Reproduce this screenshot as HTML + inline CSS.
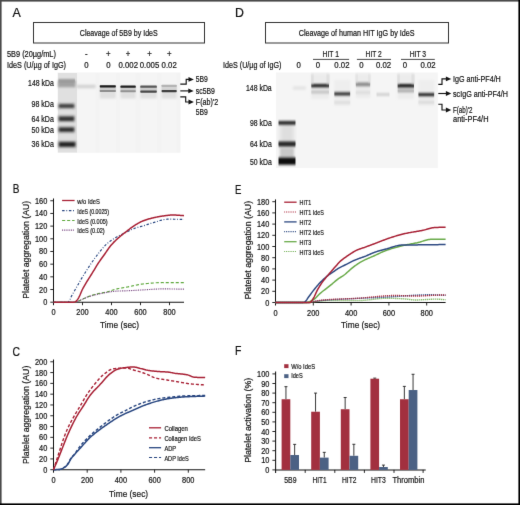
<!DOCTYPE html>
<html><head><meta charset="utf-8"><style>
html,body{margin:0;padding:0;background:#fff;}
body{width:520px;height:505px;overflow:hidden;}
svg{display:block;font-family:"Liberation Sans", sans-serif;}
text{stroke:#141414;stroke-width:0.2px;}
text.n{stroke:none;}
</style></head><body>
<svg width="520" height="505" viewBox="0 0 520 505">
<defs><filter id="soft" filterUnits="userSpaceOnUse" x="0" y="0" width="520" height="505" color-interpolation-filters="sRGB"><feConvolveMatrix order="3" kernelMatrix="0.00524 0.06192 0.00524 0.06192 0.73137 0.06192 0.00524 0.06192 0.00524" edgeMode="duplicate" preserveAlpha="true"/></filter></defs>
<g filter="url(#soft)">
<rect x="0.00" y="0.00" width="520.00" height="505.00" fill="#fff"/>
<defs><filter id="b1" x="-20%" y="-100%" width="140%" height="300%"><feGaussianBlur stdDeviation="0.6"/></filter><filter id="b2" x="-20%" y="-100%" width="140%" height="300%"><feGaussianBlur stdDeviation="1.1"/></filter><filter id="b3" x="-20%" y="-50%" width="140%" height="200%"><feGaussianBlur stdDeviation="2"/></filter><filter id="bv" x="-20%" y="-100%" width="140%" height="300%"><feGaussianBlur stdDeviation="0.6 0.95"/></filter><filter id="bv2" x="-20%" y="-100%" width="140%" height="300%"><feGaussianBlur stdDeviation="0.8 1.1"/></filter></defs>
<text x="16.55" y="17.16" font-size="12.31" text-anchor="middle" fill="#111" textLength="8.30" lengthAdjust="spacingAndGlyphs">A</text>
<rect x="33.50" y="22.50" width="171.00" height="20.50" fill="none" stroke="#333" stroke-width="1"/>
<text x="118.75" y="35.81" font-size="8.42" text-anchor="middle" fill="#141414" textLength="77.90" lengthAdjust="spacingAndGlyphs">Cleavage of 5B9 by IdeS</text>
<text x="31.45" y="57.26" font-size="8.42" text-anchor="middle" fill="#141414" textLength="48.90" lengthAdjust="spacingAndGlyphs">5B9 (20µg/mL)</text>
<text x="36.50" y="67.71" font-size="8.42" text-anchor="middle" fill="#141414" textLength="59.00" lengthAdjust="spacingAndGlyphs">IdeS (U/µg of IgG)</text>
<text x="86.30" y="57.41" font-size="8.42" text-anchor="middle" fill="#141414" textLength="2.60" lengthAdjust="spacingAndGlyphs">-</text>
<text x="108.30" y="57.21" font-size="8.42" text-anchor="middle" fill="#141414" textLength="4.56" lengthAdjust="spacingAndGlyphs">+</text>
<text x="128.10" y="57.21" font-size="8.42" text-anchor="middle" fill="#141414" textLength="4.56" lengthAdjust="spacingAndGlyphs">+</text>
<text x="149.60" y="57.21" font-size="8.42" text-anchor="middle" fill="#141414" textLength="4.56" lengthAdjust="spacingAndGlyphs">+</text>
<text x="169.40" y="57.21" font-size="8.42" text-anchor="middle" fill="#141414" textLength="4.56" lengthAdjust="spacingAndGlyphs">+</text>
<text x="86.30" y="68.11" font-size="8.42" text-anchor="middle" fill="#141414" textLength="4.34" lengthAdjust="spacingAndGlyphs">0</text>
<text x="108.30" y="68.11" font-size="8.42" text-anchor="middle" fill="#141414" textLength="4.34" lengthAdjust="spacingAndGlyphs">0</text>
<text x="128.30" y="68.11" font-size="8.42" text-anchor="middle" fill="#141414" textLength="19.52" lengthAdjust="spacingAndGlyphs">0.002</text>
<text x="149.50" y="68.11" font-size="8.42" text-anchor="middle" fill="#141414" textLength="19.52" lengthAdjust="spacingAndGlyphs">0.005</text>
<text x="169.20" y="68.11" font-size="8.42" text-anchor="middle" fill="#141414" textLength="15.18" lengthAdjust="spacingAndGlyphs">0.02</text>
<rect x="57.50" y="72.50" width="123.00" height="80.20" fill="#f3f3f3"/>
<rect x="76.50" y="73.00" width="19.00" height="79.50" fill="#f5f5f5" filter="url(#b1)"/>
<rect x="99.30" y="73.00" width="16.80" height="79.50" fill="#f5f5f5" filter="url(#b1)"/>
<rect x="120.00" y="73.00" width="15.70" height="79.50" fill="#f5f5f5" filter="url(#b1)"/>
<rect x="140.30" y="73.00" width="16.50" height="79.50" fill="#f5f5f5" filter="url(#b1)"/>
<rect x="161.60" y="73.00" width="15.10" height="79.50" fill="#f5f5f5" filter="url(#b1)"/>
<rect x="58.00" y="73.00" width="19.00" height="79.50" fill="#e0e0e0" filter="url(#b1)"/>
<rect x="58.00" y="80.30" width="17.50" height="7.00" rx="0.6" fill="#a2a2a2" opacity="1.0" filter="url(#b2)"/>
<rect x="58.50" y="79.50" width="16.50" height="2.00" rx="0.6" fill="#8a8a8a" opacity="1.0" filter="url(#bv)"/>
<rect x="58.00" y="102.45" width="17.00" height="7.10" rx="0.6" fill="#c6c6c6" opacity="1.0" filter="url(#b2)"/>
<rect x="58.80" y="104.20" width="15.40" height="3.60" rx="0.6" fill="#363636" opacity="1.0" filter="url(#bv2)"/>
<rect x="58.00" y="114.85" width="17.00" height="7.90" rx="0.6" fill="#c6c6c6" opacity="1.0" filter="url(#b2)"/>
<rect x="58.80" y="116.60" width="15.40" height="4.40" rx="0.6" fill="#303030" opacity="1.0" filter="url(#bv2)"/>
<rect x="58.00" y="125.65" width="17.00" height="7.90" rx="0.6" fill="#c6c6c6" opacity="1.0" filter="url(#b2)"/>
<rect x="58.80" y="127.40" width="15.40" height="4.40" rx="0.6" fill="#2c2c2c" opacity="1.0" filter="url(#bv2)"/>
<rect x="58.00" y="140.25" width="18.20" height="8.30" rx="0.6" fill="#c6c6c6" opacity="1.0" filter="url(#b2)"/>
<rect x="58.80" y="142.00" width="16.60" height="4.80" rx="0.6" fill="#242424" opacity="1.0" filter="url(#bv2)"/>
<rect x="76.50" y="84.65" width="19.00" height="3.50" rx="0.6" fill="#d2d2d2" opacity="1.0" filter="url(#b2)"/>
<rect x="99.80" y="85.50" width="16.00" height="13.00" rx="0.6" fill="#e0e0e0" opacity="1.0" filter="url(#b2)"/>
<rect x="99.80" y="85.80" width="16.00" height="5.70" rx="0.6" fill="#cbcbcb" opacity="1.0" filter="url(#b1)"/>
<rect x="99.80" y="89.95" width="16.00" height="2.10" rx="0.6" fill="#8e8e8e" opacity="1.0" filter="url(#b1)"/>
<rect x="99.80" y="85.15" width="16.00" height="2.30" rx="0.6" fill="#1a1a1a" opacity="1.0" filter="url(#b1)"/>
<rect x="120.50" y="85.50" width="15.20" height="13.00" rx="0.6" fill="#e0e0e0" opacity="1.0" filter="url(#b2)"/>
<rect x="120.50" y="86.20" width="15.20" height="5.60" rx="0.6" fill="#cbcbcb" opacity="1.0" filter="url(#b1)"/>
<rect x="120.50" y="90.25" width="15.20" height="2.10" rx="0.6" fill="#939393" opacity="1.0" filter="url(#b1)"/>
<rect x="120.50" y="85.55" width="15.20" height="2.30" rx="0.6" fill="#222222" opacity="1.0" filter="url(#b1)"/>
<rect x="140.30" y="85.50" width="16.50" height="13.00" rx="0.6" fill="#e0e0e0" opacity="1.0" filter="url(#b2)"/>
<rect x="140.30" y="86.10" width="16.50" height="6.00" rx="0.6" fill="#cbcbcb" opacity="1.0" filter="url(#b1)"/>
<rect x="140.30" y="90.55" width="16.50" height="2.10" rx="0.6" fill="#4a4a4a" opacity="1.0" filter="url(#b1)"/>
<rect x="140.30" y="85.45" width="16.50" height="2.30" rx="0.6" fill="#5a5a5a" opacity="1.0" filter="url(#b1)"/>
<rect x="161.60" y="85.50" width="15.10" height="13.00" rx="0.6" fill="#e0e0e0" opacity="1.0" filter="url(#b2)"/>
<rect x="161.60" y="85.30" width="15.10" height="6.30" rx="0.6" fill="#d4d4d4" opacity="1.0" filter="url(#b1)"/>
<rect x="161.60" y="90.05" width="15.10" height="2.10" rx="0.6" fill="#404040" opacity="1.0" filter="url(#b1)"/>
<rect x="161.60" y="84.65" width="15.10" height="2.30" rx="0.6" fill="#b4b4b4" opacity="1.0" filter="url(#b1)"/>
<path d="M180.30,84.10 L186.20,84.10 L186.20,79.40 L189.90,79.40" fill="none" stroke="#151515" stroke-width="1.15"/>
<path d="M193.90,79.40 L188.50,77.00 L188.50,81.80 Z" fill="#151515"/>
<path d="M180.30,90.90 L186.20,90.90 L186.20,90.90 L189.70,90.90" fill="none" stroke="#151515" stroke-width="1.15"/>
<path d="M193.70,90.90 L188.30,88.50 L188.30,93.30 Z" fill="#151515"/>
<path d="M180.30,96.80 L185.70,96.80 L185.70,102.00 L189.90,102.00" fill="none" stroke="#151515" stroke-width="1.15"/>
<path d="M193.90,102.00 L188.50,99.60 L188.50,104.40 Z" fill="#151515"/>
<text x="201.85" y="82.41" font-size="8.42" text-anchor="middle" fill="#141414" textLength="12.10" lengthAdjust="spacingAndGlyphs">5B9</text>
<text x="205.35" y="93.91" font-size="8.42" text-anchor="middle" fill="#141414" textLength="19.10" lengthAdjust="spacingAndGlyphs">sc5B9</text>
<text x="207.00" y="104.91" font-size="8.42" text-anchor="middle" fill="#141414" textLength="22.40" lengthAdjust="spacingAndGlyphs">F(ab)'2</text>
<text x="201.85" y="114.61" font-size="8.42" text-anchor="middle" fill="#141414" textLength="12.10" lengthAdjust="spacingAndGlyphs">5B9</text>
<text x="40.95" y="85.91" font-size="8.42" text-anchor="middle" fill="#141414" textLength="25.70" lengthAdjust="spacingAndGlyphs">148 kDa</text>
<text x="42.65" y="107.11" font-size="8.42" text-anchor="middle" fill="#141414" textLength="22.30" lengthAdjust="spacingAndGlyphs">98 kDa</text>
<text x="42.65" y="122.01" font-size="8.42" text-anchor="middle" fill="#141414" textLength="22.30" lengthAdjust="spacingAndGlyphs">64 kDa</text>
<text x="42.65" y="132.71" font-size="8.42" text-anchor="middle" fill="#141414" textLength="22.30" lengthAdjust="spacingAndGlyphs">50 kDa</text>
<text x="42.65" y="147.31" font-size="8.42" text-anchor="middle" fill="#141414" textLength="22.30" lengthAdjust="spacingAndGlyphs">36 kDa</text>
<text x="239.55" y="17.06" font-size="12.31" text-anchor="middle" fill="#111" textLength="8.90" lengthAdjust="spacingAndGlyphs">D</text>
<rect x="265.50" y="22.50" width="183.00" height="20.50" fill="none" stroke="#333" stroke-width="1"/>
<text x="356.65" y="36.01" font-size="8.42" text-anchor="middle" fill="#141414" textLength="115.90" lengthAdjust="spacingAndGlyphs">Cleavage of human HIT IgG by IdeS</text>
<text x="330.80" y="56.71" font-size="8.42" text-anchor="middle" fill="#141414" textLength="16.40" lengthAdjust="spacingAndGlyphs">HIT 1</text>
<line x1="313.00" y1="59.40" x2="349.10" y2="59.40" stroke="#333" stroke-width="0.9"/>
<text x="373.65" y="56.71" font-size="8.42" text-anchor="middle" fill="#141414" textLength="16.10" lengthAdjust="spacingAndGlyphs">HIT 2</text>
<line x1="356.90" y1="59.40" x2="391.00" y2="59.40" stroke="#333" stroke-width="0.9"/>
<text x="417.90" y="56.71" font-size="8.42" text-anchor="middle" fill="#141414" textLength="16.40" lengthAdjust="spacingAndGlyphs">HIT 3</text>
<line x1="401.00" y1="59.40" x2="434.80" y2="59.40" stroke="#333" stroke-width="0.9"/>
<text x="252.20" y="68.21" font-size="8.42" text-anchor="middle" fill="#141414" textLength="58.40" lengthAdjust="spacingAndGlyphs">IdeS (U/µg of IgG)</text>
<text x="298.70" y="68.21" font-size="8.42" text-anchor="middle" fill="#141414" textLength="4.34" lengthAdjust="spacingAndGlyphs">0</text>
<text x="318.00" y="68.21" font-size="8.42" text-anchor="middle" fill="#141414" textLength="4.34" lengthAdjust="spacingAndGlyphs">0</text>
<text x="341.90" y="68.21" font-size="8.42" text-anchor="middle" fill="#141414" textLength="15.18" lengthAdjust="spacingAndGlyphs">0.02</text>
<text x="361.50" y="68.21" font-size="8.42" text-anchor="middle" fill="#141414" textLength="4.34" lengthAdjust="spacingAndGlyphs">0</text>
<text x="383.50" y="68.21" font-size="8.42" text-anchor="middle" fill="#141414" textLength="15.18" lengthAdjust="spacingAndGlyphs">0.02</text>
<text x="405.00" y="68.21" font-size="8.42" text-anchor="middle" fill="#141414" textLength="4.34" lengthAdjust="spacingAndGlyphs">0</text>
<text x="428.00" y="68.21" font-size="8.42" text-anchor="middle" fill="#141414" textLength="15.18" lengthAdjust="spacingAndGlyphs">0.02</text>
<rect x="276.00" y="72.50" width="161.80" height="95.50" fill="#f5f5f5"/>
<rect x="280.00" y="122.00" width="14.00" height="26.00" rx="0.6" fill="#dedede" opacity="1.0" filter="url(#b3)"/>
<rect x="280.00" y="148.00" width="14.00" height="10.00" rx="0.6" fill="#c8c8c8" opacity="1.0" filter="url(#b2)"/>
<rect x="278.50" y="120.90" width="17.00" height="3.80" rx="0.6" fill="#2a2a2a" opacity="1.0" filter="url(#bv)"/>
<rect x="278.50" y="141.60" width="17.00" height="4.80" rx="0.6" fill="#262626" opacity="1.0" filter="url(#bv)"/>
<rect x="278.50" y="157.60" width="17.00" height="7.20" rx="0.6" fill="#101010" opacity="1.0" filter="url(#bv)"/>
<rect x="292.90" y="86.15" width="13.00" height="3.50" rx="0.6" fill="#e4e4e4" opacity="1.0" filter="url(#b2)"/>
<rect x="311.30" y="73.50" width="17.70" height="25.50" rx="0.6" fill="#ececec" opacity="1.0" filter="url(#b2)"/>
<rect x="311.30" y="90.50" width="17.70" height="3.00" rx="0.6" fill="#c2c2c2" opacity="1.0" filter="url(#bv)"/>
<rect x="311.30" y="83.90" width="17.70" height="3.40" rx="0.6" fill="#1a1a1a" opacity="1.0" filter="url(#bv)"/>
<rect x="334.30" y="80.00" width="15.90" height="26.00" rx="0.6" fill="#eeeeee" opacity="1.0" filter="url(#b2)"/>
<rect x="334.30" y="101.00" width="15.90" height="3.00" rx="0.6" fill="#dedede" opacity="1.0" filter="url(#bv)"/>
<rect x="334.30" y="92.20" width="15.90" height="3.20" rx="0.6" fill="#303030" opacity="1.0" filter="url(#bv)"/>
<rect x="355.80" y="73.50" width="14.40" height="24.50" rx="0.6" fill="#ececec" opacity="1.0" filter="url(#b2)"/>
<rect x="355.80" y="91.00" width="14.40" height="3.00" rx="0.6" fill="#dedede" opacity="1.0" filter="url(#bv)"/>
<rect x="355.80" y="82.60" width="14.40" height="3.60" rx="0.6" fill="#8a8a8a" opacity="1.0" filter="url(#bv)"/>
<rect x="376.50" y="92.90" width="13.00" height="3.20" rx="0.6" fill="#d2d2d2" opacity="1.0" filter="url(#bv)"/>
<rect x="397.60" y="73.50" width="16.40" height="25.50" rx="0.6" fill="#ececec" opacity="1.0" filter="url(#b2)"/>
<rect x="397.60" y="89.60" width="16.40" height="2.60" rx="0.6" fill="#a6a6a6" opacity="1.0" filter="url(#bv)"/>
<rect x="397.60" y="84.10" width="16.40" height="3.40" rx="0.6" fill="#141414" opacity="1.0" filter="url(#bv)"/>
<rect x="418.40" y="80.00" width="15.80" height="26.00" rx="0.6" fill="#eeeeee" opacity="1.0" filter="url(#b2)"/>
<rect x="418.40" y="100.80" width="15.80" height="3.00" rx="0.6" fill="#dcdcdc" opacity="1.0" filter="url(#bv)"/>
<rect x="418.40" y="93.00" width="15.80" height="3.20" rx="0.6" fill="#2c2c2c" opacity="1.0" filter="url(#bv)"/>
<rect x="311.40" y="74.00" width="1.6" height="10.50" fill="#cfcfcf" filter="url(#b2)"/>
<rect x="327.30" y="74.00" width="1.6" height="10.50" fill="#cfcfcf" filter="url(#b2)"/>
<rect x="397.70" y="74.00" width="1.6" height="10.50" fill="#cfcfcf" filter="url(#b2)"/>
<rect x="412.30" y="74.00" width="1.6" height="10.50" fill="#cfcfcf" filter="url(#b2)"/>
<rect x="355.90" y="74.00" width="1.6" height="9.00" fill="#dadada" filter="url(#b2)"/>
<rect x="368.50" y="74.00" width="1.6" height="9.00" fill="#dadada" filter="url(#b2)"/>
<path d="M438.30,84.40 L442.00,84.40 L442.00,78.90 L447.30,78.90" fill="none" stroke="#151515" stroke-width="1.15"/>
<path d="M451.30,78.90 L445.90,76.50 L445.90,81.30 Z" fill="#151515"/>
<path d="M438.30,93.50 L442.00,93.50 L442.00,93.50 L447.30,93.50" fill="none" stroke="#151515" stroke-width="1.15"/>
<path d="M451.30,93.50 L445.90,91.10 L445.90,95.90 Z" fill="#151515"/>
<path d="M438.30,104.20 L442.00,104.20 L442.00,110.00 L447.30,110.00" fill="none" stroke="#151515" stroke-width="1.15"/>
<path d="M451.30,110.00 L445.90,107.60 L445.90,112.40 Z" fill="#151515"/>
<text x="476.90" y="82.21" font-size="8.42" text-anchor="middle" fill="#141414" textLength="47.80" lengthAdjust="spacingAndGlyphs">IgG anti-PF4/H</text>
<text x="480.50" y="96.51" font-size="8.42" text-anchor="middle" fill="#141414" textLength="55.00" lengthAdjust="spacingAndGlyphs">scIgG anti-PF4/H</text>
<text x="462.75" y="113.01" font-size="8.42" text-anchor="middle" fill="#141414" textLength="19.50" lengthAdjust="spacingAndGlyphs">F(ab)'2</text>
<text x="470.75" y="122.01" font-size="8.42" text-anchor="middle" fill="#141414" textLength="35.50" lengthAdjust="spacingAndGlyphs">anti-PF4/H</text>
<text x="258.85" y="90.81" font-size="8.42" text-anchor="middle" fill="#141414" textLength="25.70" lengthAdjust="spacingAndGlyphs">148 kDa</text>
<text x="260.85" y="126.01" font-size="8.42" text-anchor="middle" fill="#141414" textLength="21.70" lengthAdjust="spacingAndGlyphs">98 kDa</text>
<text x="260.85" y="146.71" font-size="8.42" text-anchor="middle" fill="#141414" textLength="21.70" lengthAdjust="spacingAndGlyphs">64 kDa</text>
<text x="260.85" y="165.01" font-size="8.42" text-anchor="middle" fill="#141414" textLength="21.70" lengthAdjust="spacingAndGlyphs">50 kDa</text>
<text x="16.15" y="193.46" font-size="12.31" text-anchor="middle" fill="#111" textLength="6.70" lengthAdjust="spacingAndGlyphs">B</text>
<line x1="53.50" y1="305.20" x2="53.50" y2="198.46" stroke="#111" stroke-width="1.05"/>
<line x1="53.50" y1="302.20" x2="184.00" y2="302.20" stroke="#111" stroke-width="1.05"/>
<line x1="50.30" y1="302.20" x2="53.50" y2="302.20" stroke="#111" stroke-width="0.9"/>
<text x="47.30" y="305.21" font-size="8.42" text-anchor="end" fill="#141414" textLength="4.12" lengthAdjust="spacingAndGlyphs">0</text>
<line x1="50.30" y1="289.52" x2="53.50" y2="289.52" stroke="#111" stroke-width="0.9"/>
<text x="47.30" y="292.53" font-size="8.42" text-anchor="end" fill="#141414" textLength="8.24" lengthAdjust="spacingAndGlyphs">20</text>
<line x1="50.30" y1="276.84" x2="53.50" y2="276.84" stroke="#111" stroke-width="0.9"/>
<text x="47.30" y="279.85" font-size="8.42" text-anchor="end" fill="#141414" textLength="8.24" lengthAdjust="spacingAndGlyphs">40</text>
<line x1="50.30" y1="264.16" x2="53.50" y2="264.16" stroke="#111" stroke-width="0.9"/>
<text x="47.30" y="267.17" font-size="8.42" text-anchor="end" fill="#141414" textLength="8.24" lengthAdjust="spacingAndGlyphs">60</text>
<line x1="50.30" y1="251.48" x2="53.50" y2="251.48" stroke="#111" stroke-width="0.9"/>
<text x="47.30" y="254.49" font-size="8.42" text-anchor="end" fill="#141414" textLength="8.24" lengthAdjust="spacingAndGlyphs">80</text>
<line x1="50.30" y1="238.80" x2="53.50" y2="238.80" stroke="#111" stroke-width="0.9"/>
<text x="47.30" y="241.81" font-size="8.42" text-anchor="end" fill="#141414" textLength="12.36" lengthAdjust="spacingAndGlyphs">100</text>
<line x1="50.30" y1="226.12" x2="53.50" y2="226.12" stroke="#111" stroke-width="0.9"/>
<text x="47.30" y="229.13" font-size="8.42" text-anchor="end" fill="#141414" textLength="12.36" lengthAdjust="spacingAndGlyphs">120</text>
<line x1="50.30" y1="213.44" x2="53.50" y2="213.44" stroke="#111" stroke-width="0.9"/>
<text x="47.30" y="216.45" font-size="8.42" text-anchor="end" fill="#141414" textLength="12.36" lengthAdjust="spacingAndGlyphs">140</text>
<line x1="50.30" y1="200.76" x2="53.50" y2="200.76" stroke="#111" stroke-width="0.9"/>
<text x="47.30" y="203.77" font-size="8.42" text-anchor="end" fill="#141414" textLength="12.36" lengthAdjust="spacingAndGlyphs">160</text>
<text x="53.50" y="315.41" font-size="8.42" text-anchor="middle" fill="#141414" textLength="4.12" lengthAdjust="spacingAndGlyphs">0</text>
<line x1="82.50" y1="302.20" x2="82.50" y2="305.20" stroke="#111" stroke-width="0.9"/>
<text x="82.50" y="315.41" font-size="8.42" text-anchor="middle" fill="#141414" textLength="12.36" lengthAdjust="spacingAndGlyphs">200</text>
<line x1="111.50" y1="302.20" x2="111.50" y2="305.20" stroke="#111" stroke-width="0.9"/>
<text x="111.50" y="315.41" font-size="8.42" text-anchor="middle" fill="#141414" textLength="12.36" lengthAdjust="spacingAndGlyphs">400</text>
<line x1="140.50" y1="302.20" x2="140.50" y2="305.20" stroke="#111" stroke-width="0.9"/>
<text x="140.50" y="315.41" font-size="8.42" text-anchor="middle" fill="#141414" textLength="12.36" lengthAdjust="spacingAndGlyphs">600</text>
<line x1="169.50" y1="302.20" x2="169.50" y2="305.20" stroke="#111" stroke-width="0.9"/>
<text x="169.50" y="315.41" font-size="8.42" text-anchor="middle" fill="#141414" textLength="12.36" lengthAdjust="spacingAndGlyphs">800</text>
<text x="25.80" y="253.28" font-size="9.72" text-anchor="middle" fill="#141414" textLength="98.00" lengthAdjust="spacingAndGlyphs" transform="rotate(-90 25.80 249.80)">Platelet aggregation (AU)</text>
<text x="119.50" y="327.88" font-size="9.72" text-anchor="middle" fill="#141414" textLength="39.00" lengthAdjust="spacingAndGlyphs">Time (sec)</text>
<path d="M53.50,302.20 L54.23,302.20 L54.95,302.20 L55.67,302.20 L56.40,302.20 L57.12,302.20 L57.85,302.20 L58.58,302.20 L59.30,302.20 L60.02,302.20 L60.75,302.20 L61.48,302.20 L62.20,302.20 L62.92,302.20 L63.65,302.20 L64.38,302.20 L65.10,302.20 L65.83,302.20 L66.55,302.20 L67.28,302.20 L68.00,302.20 L68.72,302.20 L69.45,302.20 L70.17,302.20 L70.90,302.20 L71.62,302.20 L72.35,302.20 L73.08,302.20 L73.80,302.20 L74.53,302.20 L75.25,302.20 L75.97,302.13 L76.70,301.94 L77.42,301.65 L78.15,301.31 L78.88,300.93 L79.60,300.54 L80.33,300.18 L81.05,299.86 L81.78,299.54 L82.50,299.21 L83.22,298.87 L83.95,298.52 L84.67,298.18 L85.40,297.84 L86.12,297.51 L86.85,297.20 L87.57,296.90 L88.30,296.62 L89.03,296.36 L89.75,296.10 L90.47,295.85 L91.20,295.61 L91.92,295.37 L92.65,295.14 L93.38,294.92 L94.10,294.70 L94.82,294.49 L95.55,294.29 L96.28,294.10 L97.00,293.91 L97.72,293.73 L98.45,293.57 L99.17,293.41 L99.90,293.26 L100.62,293.12 L101.35,292.99 L102.07,292.85 L102.80,292.72 L103.53,292.59 L104.25,292.45 L104.97,292.31 L105.70,292.16 L106.42,292.00 L107.15,291.83 L107.88,291.64 L108.60,291.43 L109.32,291.21 L110.05,290.98 L110.78,290.74 L111.50,290.50 L112.22,290.26 L112.95,290.01 L113.67,289.78 L114.40,289.56 L115.12,289.35 L115.85,289.15 L116.57,288.98 L117.30,288.82 L118.02,288.67 L118.75,288.52 L119.47,288.38 L120.20,288.25 L120.92,288.12 L121.65,287.99 L122.38,287.87 L123.10,287.75 L123.82,287.62 L124.55,287.50 L125.27,287.37 L126.00,287.24 L126.72,287.11 L127.45,286.97 L128.18,286.83 L128.90,286.68 L129.62,286.53 L130.35,286.38 L131.07,286.22 L131.80,286.06 L132.52,285.90 L133.25,285.74 L133.97,285.58 L134.70,285.43 L135.43,285.27 L136.15,285.12 L136.88,284.97 L137.60,284.82 L138.32,284.68 L139.05,284.55 L139.77,284.42 L140.50,284.30 L141.22,284.18 L141.95,284.08 L142.68,283.98 L143.40,283.89 L144.12,283.81 L144.85,283.74 L145.57,283.67 L146.30,283.60 L147.02,283.53 L147.75,283.46 L148.47,283.39 L149.20,283.32 L149.93,283.25 L150.65,283.19 L151.38,283.13 L152.10,283.06 L152.82,283.01 L153.55,282.95 L154.27,282.90 L155.00,282.85 L155.72,282.80 L156.45,282.75 L157.18,282.71 L157.90,282.68 L158.62,282.64 L159.35,282.62 L160.07,282.59 L160.80,282.57 L161.52,282.56 L162.25,282.55 L162.97,282.55 L163.70,282.55 L164.43,282.55 L165.15,282.55 L165.88,282.55 L166.60,282.55 L167.32,282.55 L168.05,282.55 L168.77,282.55 L169.50,282.55 L170.22,282.55 L170.95,282.55 L171.68,282.55 L172.40,282.55 L173.12,282.55 L173.85,282.55 L174.57,282.55 L175.30,282.55 L176.02,282.55 L176.75,282.55 L177.47,282.55 L178.20,282.55 L178.93,282.55 L179.65,282.55 L180.38,282.55 L181.10,282.55 L181.82,282.55 L182.55,282.55 L183.27,282.55 L184.00,282.55" fill="none" stroke="#5ea83c" stroke-width="1.15" stroke-dasharray="3.1 1.9" stroke-linejoin="round" stroke-linecap="butt"/>
<path d="M53.50,302.20 L54.23,302.20 L54.95,302.20 L55.67,302.20 L56.40,302.20 L57.12,302.20 L57.85,302.20 L58.58,302.20 L59.30,302.20 L60.02,302.20 L60.75,302.20 L61.48,302.20 L62.20,302.20 L62.92,302.20 L63.65,302.20 L64.38,302.20 L65.10,302.20 L65.83,302.20 L66.55,302.20 L67.28,302.20 L68.00,302.20 L68.72,302.20 L69.45,302.20 L70.17,302.20 L70.90,302.20 L71.62,302.20 L72.35,302.20 L73.08,302.20 L73.80,302.20 L74.53,302.20 L75.25,302.20 L75.97,302.13 L76.70,301.94 L77.42,301.65 L78.15,301.30 L78.88,300.92 L79.60,300.53 L80.33,300.17 L81.05,299.86 L81.78,299.55 L82.50,299.23 L83.22,298.91 L83.95,298.58 L84.67,298.26 L85.40,297.94 L86.12,297.63 L86.85,297.34 L87.57,297.07 L88.30,296.81 L89.03,296.57 L89.75,296.34 L90.47,296.12 L91.20,295.91 L91.92,295.70 L92.65,295.50 L93.38,295.31 L94.10,295.12 L94.82,294.94 L95.55,294.76 L96.28,294.58 L97.00,294.41 L97.72,294.24 L98.45,294.07 L99.17,293.91 L99.90,293.75 L100.62,293.59 L101.35,293.44 L102.07,293.29 L102.80,293.14 L103.53,292.99 L104.25,292.86 L104.97,292.72 L105.70,292.59 L106.42,292.47 L107.15,292.35 L107.88,292.23 L108.60,292.11 L109.32,291.99 L110.05,291.87 L110.78,291.75 L111.50,291.64 L112.22,291.53 L112.95,291.44 L113.67,291.34 L114.40,291.26 L115.12,291.20 L115.85,291.14 L116.57,291.10 L117.30,291.06 L118.02,291.03 L118.75,291.01 L119.47,290.99 L120.20,290.97 L120.92,290.95 L121.65,290.93 L122.38,290.91 L123.10,290.89 L123.82,290.88 L124.55,290.86 L125.27,290.84 L126.00,290.81 L126.72,290.79 L127.45,290.76 L128.18,290.73 L128.90,290.70 L129.62,290.66 L130.35,290.63 L131.07,290.59 L131.80,290.55 L132.52,290.51 L133.25,290.47 L133.97,290.43 L134.70,290.39 L135.43,290.34 L136.15,290.30 L136.88,290.26 L137.60,290.21 L138.32,290.17 L139.05,290.13 L139.77,290.08 L140.50,290.04 L141.22,290.00 L141.95,289.96 L142.68,289.92 L143.40,289.88 L144.12,289.84 L144.85,289.80 L145.57,289.76 L146.30,289.71 L147.02,289.67 L147.75,289.62 L148.47,289.58 L149.20,289.53 L149.93,289.48 L150.65,289.43 L151.38,289.38 L152.10,289.33 L152.82,289.29 L153.55,289.24 L154.27,289.20 L155.00,289.15 L155.72,289.11 L156.45,289.08 L157.18,289.04 L157.90,289.01 L158.62,288.98 L159.35,288.95 L160.07,288.93 L160.80,288.91 L161.52,288.90 L162.25,288.89 L162.97,288.89 L163.70,288.89 L164.43,288.89 L165.15,288.89 L165.88,288.90 L166.60,288.90 L167.32,288.91 L168.05,288.92 L168.77,288.93 L169.50,288.94 L170.22,288.95 L170.95,288.96 L171.68,288.97 L172.40,288.98 L173.12,289.00 L173.85,289.01 L174.57,289.02 L175.30,289.04 L176.02,289.05 L176.75,289.07 L177.47,289.08 L178.20,289.10 L178.93,289.11 L179.65,289.13 L180.38,289.14 L181.10,289.15 L181.82,289.17 L182.55,289.18 L183.27,289.19 L184.00,289.20" fill="none" stroke="#6e3a78" stroke-width="1.15" stroke-dasharray="0.9 0.9" stroke-linejoin="round" stroke-linecap="butt"/>
<path d="M53.50,302.20 L54.23,302.20 L54.95,302.20 L55.67,302.20 L56.40,302.20 L57.12,302.20 L57.85,302.20 L58.58,302.20 L59.30,302.20 L60.02,302.20 L60.75,302.20 L61.48,302.20 L62.20,302.20 L62.92,302.20 L63.65,302.20 L64.38,302.20 L65.10,302.20 L65.83,302.20 L66.55,302.20 L67.28,302.20 L68.00,302.06 L68.72,301.68 L69.45,300.64 L70.17,299.09 L70.90,297.38 L71.62,295.86 L72.35,294.56 L73.08,293.29 L73.80,292.03 L74.53,290.78 L75.25,289.52 L75.97,288.25 L76.70,286.98 L77.42,285.71 L78.15,284.44 L78.88,283.18 L79.60,281.91 L80.33,280.64 L81.05,279.37 L81.78,278.13 L82.50,276.92 L83.22,275.74 L83.95,274.58 L84.67,273.44 L85.40,272.31 L86.12,271.18 L86.85,270.04 L87.57,268.90 L88.30,267.75 L89.03,266.61 L89.75,265.50 L90.47,264.41 L91.20,263.35 L91.92,262.30 L92.65,261.26 L93.38,260.23 L94.10,259.21 L94.82,258.20 L95.55,257.21 L96.28,256.24 L97.00,255.28 L97.72,254.34 L98.45,253.43 L99.17,252.52 L99.90,251.62 L100.62,250.72 L101.35,249.82 L102.07,248.94 L102.80,248.08 L103.53,247.24 L104.25,246.42 L104.97,245.64 L105.70,244.90 L106.42,244.20 L107.15,243.55 L107.88,242.95 L108.60,242.36 L109.32,241.80 L110.05,241.26 L110.78,240.74 L111.50,240.24 L112.22,239.75 L112.95,239.28 L113.67,238.83 L114.40,238.38 L115.12,237.94 L115.85,237.51 L116.57,237.09 L117.30,236.67 L118.02,236.27 L118.75,235.88 L119.47,235.50 L120.20,235.13 L120.92,234.77 L121.65,234.42 L122.38,234.07 L123.10,233.72 L123.82,233.37 L124.55,233.03 L125.27,232.69 L126.00,232.34 L126.72,231.99 L127.45,231.63 L128.18,231.27 L128.90,230.92 L129.62,230.56 L130.35,230.20 L131.07,229.86 L131.80,229.52 L132.52,229.20 L133.25,228.88 L133.97,228.59 L134.70,228.32 L135.43,228.06 L136.15,227.83 L136.88,227.60 L137.60,227.39 L138.32,227.19 L139.05,227.00 L139.77,226.80 L140.50,226.61 L141.22,226.42 L141.95,226.22 L142.68,226.02 L143.40,225.80 L144.12,225.58 L144.85,225.35 L145.57,225.11 L146.30,224.86 L147.02,224.62 L147.75,224.37 L148.47,224.13 L149.20,223.88 L149.93,223.65 L150.65,223.42 L151.38,223.20 L152.10,222.99 L152.82,222.79 L153.55,222.58 L154.27,222.36 L155.00,222.14 L155.72,221.91 L156.45,221.68 L157.18,221.45 L157.90,221.23 L158.62,221.00 L159.35,220.78 L160.07,220.57 L160.80,220.37 L161.52,220.17 L162.25,219.99 L162.97,219.82 L163.70,219.67 L164.43,219.53 L165.15,219.41 L165.88,219.31 L166.60,219.23 L167.32,219.18 L168.05,219.15 L168.77,219.15 L169.50,219.15 L170.22,219.15 L170.95,219.16 L171.68,219.17 L172.40,219.18 L173.12,219.19 L173.85,219.21 L174.57,219.22 L175.30,219.24 L176.02,219.26 L176.75,219.28 L177.47,219.30 L178.20,219.32 L178.93,219.34 L179.65,219.36 L180.38,219.38 L181.10,219.39 L181.82,219.41 L182.55,219.43 L183.27,219.45 L184.00,219.46" fill="none" stroke="#284680" stroke-width="1.15" stroke-dasharray="2.5 1.7 0.9 1.7" stroke-linejoin="round" stroke-linecap="butt"/>
<path d="M53.50,302.20 L54.23,302.20 L54.95,302.20 L55.67,302.20 L56.40,302.20 L57.12,302.20 L57.85,302.20 L58.58,302.20 L59.30,302.20 L60.02,302.20 L60.75,302.20 L61.48,302.20 L62.20,302.20 L62.92,302.20 L63.65,302.20 L64.38,302.20 L65.10,302.20 L65.83,302.20 L66.55,302.20 L67.28,302.20 L68.00,302.20 L68.72,302.20 L69.45,302.20 L70.17,302.20 L70.90,302.20 L71.62,302.20 L72.35,302.20 L73.08,302.20 L73.80,302.20 L74.53,302.10 L75.25,301.88 L75.97,301.40 L76.70,300.60 L77.42,299.66 L78.15,298.58 L78.88,297.28 L79.60,295.86 L80.33,294.28 L81.05,292.52 L81.78,290.78 L82.50,289.23 L83.22,287.84 L83.95,286.54 L84.67,285.29 L85.40,284.07 L86.12,282.86 L86.85,281.67 L87.57,280.51 L88.30,279.36 L89.03,278.22 L89.75,277.07 L90.47,275.91 L91.20,274.74 L91.92,273.57 L92.65,272.39 L93.38,271.21 L94.10,270.02 L94.82,268.80 L95.55,267.57 L96.28,266.35 L97.00,265.16 L97.72,264.03 L98.45,262.94 L99.17,261.87 L99.90,260.82 L100.62,259.80 L101.35,258.78 L102.07,257.77 L102.80,256.77 L103.53,255.76 L104.25,254.74 L104.97,253.71 L105.70,252.66 L106.42,251.59 L107.15,250.53 L107.88,249.47 L108.60,248.44 L109.32,247.45 L110.05,246.49 L110.78,245.60 L111.50,244.75 L112.22,243.93 L112.95,243.14 L113.67,242.38 L114.40,241.63 L115.12,240.91 L115.85,240.21 L116.57,239.52 L117.30,238.85 L118.02,238.21 L118.75,237.57 L119.47,236.96 L120.20,236.35 L120.92,235.75 L121.65,235.16 L122.38,234.58 L123.10,234.02 L123.82,233.46 L124.55,232.91 L125.27,232.36 L126.00,231.81 L126.72,231.26 L127.45,230.70 L128.18,230.13 L128.90,229.57 L129.62,229.00 L130.35,228.44 L131.07,227.89 L131.80,227.35 L132.52,226.82 L133.25,226.31 L133.97,225.82 L134.70,225.35 L135.43,224.90 L136.15,224.46 L136.88,224.03 L137.60,223.60 L138.32,223.19 L139.05,222.79 L139.77,222.40 L140.50,222.03 L141.22,221.67 L141.95,221.34 L142.68,221.02 L143.40,220.73 L144.12,220.46 L144.85,220.20 L145.57,219.95 L146.30,219.71 L147.02,219.48 L147.75,219.26 L148.47,219.05 L149.20,218.84 L149.93,218.65 L150.65,218.46 L151.38,218.28 L152.10,218.10 L152.82,217.93 L153.55,217.76 L154.27,217.60 L155.00,217.44 L155.72,217.28 L156.45,217.13 L157.18,216.98 L157.90,216.84 L158.62,216.70 L159.35,216.57 L160.07,216.44 L160.80,216.32 L161.52,216.20 L162.25,216.10 L162.97,216.00 L163.70,215.90 L164.43,215.80 L165.15,215.70 L165.88,215.60 L166.60,215.50 L167.32,215.41 L168.05,215.32 L168.77,215.24 L169.50,215.17 L170.22,215.11 L170.95,215.07 L171.68,215.04 L172.40,215.03 L173.12,215.03 L173.85,215.04 L174.57,215.06 L175.30,215.09 L176.02,215.12 L176.75,215.16 L177.47,215.21 L178.20,215.26 L178.93,215.31 L179.65,215.36 L180.38,215.41 L181.10,215.47 L181.82,215.52 L182.55,215.57 L183.27,215.62 L184.00,215.66" fill="none" stroke="#a82135" stroke-width="1.5" stroke-linejoin="round" stroke-linecap="butt"/>
<line x1="62.10" y1="200.50" x2="74.60" y2="200.50" stroke="#a82135" stroke-width="1.3"/>
<text x="77.30" y="203.51" font-size="7.02" text-anchor="start" fill="#1a1a1a" textLength="22.60" lengthAdjust="spacingAndGlyphs">w/o IdeS</text>
<line x1="62.10" y1="210.60" x2="74.60" y2="210.60" stroke="#284680" stroke-width="1.15" stroke-dasharray="2.5 1.7 0.9 1.7"/>
<text x="77.30" y="213.61" font-size="7.02" text-anchor="start" fill="#1a1a1a" textLength="31.70" lengthAdjust="spacingAndGlyphs">IdeS (0.0025)</text>
<line x1="62.10" y1="220.50" x2="74.60" y2="220.50" stroke="#5ea83c" stroke-width="1.15" stroke-dasharray="3.1 1.9"/>
<text x="77.30" y="223.51" font-size="7.02" text-anchor="start" fill="#1a1a1a" textLength="30.30" lengthAdjust="spacingAndGlyphs">IdeS (0.005)</text>
<line x1="62.10" y1="230.10" x2="74.60" y2="230.10" stroke="#6e3a78" stroke-width="1.15" stroke-dasharray="0.9 0.9"/>
<text x="77.30" y="233.11" font-size="7.02" text-anchor="start" fill="#1a1a1a" textLength="27.40" lengthAdjust="spacingAndGlyphs">IdeS (0.02)</text>
<text x="238.30" y="193.56" font-size="12.31" text-anchor="middle" fill="#111" textLength="6.40" lengthAdjust="spacingAndGlyphs">E</text>
<line x1="275.50" y1="305.50" x2="275.50" y2="199.40" stroke="#111" stroke-width="1.05"/>
<line x1="275.50" y1="302.50" x2="445.60" y2="302.50" stroke="#111" stroke-width="1.05"/>
<line x1="272.30" y1="302.50" x2="275.50" y2="302.50" stroke="#111" stroke-width="0.9"/>
<text x="269.30" y="305.51" font-size="8.42" text-anchor="end" fill="#141414" textLength="4.12" lengthAdjust="spacingAndGlyphs">0</text>
<line x1="272.30" y1="291.30" x2="275.50" y2="291.30" stroke="#111" stroke-width="0.9"/>
<text x="269.30" y="294.31" font-size="8.42" text-anchor="end" fill="#141414" textLength="8.24" lengthAdjust="spacingAndGlyphs">20</text>
<line x1="272.30" y1="280.10" x2="275.50" y2="280.10" stroke="#111" stroke-width="0.9"/>
<text x="269.30" y="283.11" font-size="8.42" text-anchor="end" fill="#141414" textLength="8.24" lengthAdjust="spacingAndGlyphs">40</text>
<line x1="272.30" y1="268.90" x2="275.50" y2="268.90" stroke="#111" stroke-width="0.9"/>
<text x="269.30" y="271.91" font-size="8.42" text-anchor="end" fill="#141414" textLength="8.24" lengthAdjust="spacingAndGlyphs">60</text>
<line x1="272.30" y1="257.70" x2="275.50" y2="257.70" stroke="#111" stroke-width="0.9"/>
<text x="269.30" y="260.71" font-size="8.42" text-anchor="end" fill="#141414" textLength="8.24" lengthAdjust="spacingAndGlyphs">80</text>
<line x1="272.30" y1="246.50" x2="275.50" y2="246.50" stroke="#111" stroke-width="0.9"/>
<text x="269.30" y="249.51" font-size="8.42" text-anchor="end" fill="#141414" textLength="12.36" lengthAdjust="spacingAndGlyphs">100</text>
<line x1="272.30" y1="235.30" x2="275.50" y2="235.30" stroke="#111" stroke-width="0.9"/>
<text x="269.30" y="238.31" font-size="8.42" text-anchor="end" fill="#141414" textLength="12.36" lengthAdjust="spacingAndGlyphs">120</text>
<line x1="272.30" y1="224.10" x2="275.50" y2="224.10" stroke="#111" stroke-width="0.9"/>
<text x="269.30" y="227.11" font-size="8.42" text-anchor="end" fill="#141414" textLength="12.36" lengthAdjust="spacingAndGlyphs">140</text>
<line x1="272.30" y1="212.90" x2="275.50" y2="212.90" stroke="#111" stroke-width="0.9"/>
<text x="269.30" y="215.91" font-size="8.42" text-anchor="end" fill="#141414" textLength="12.36" lengthAdjust="spacingAndGlyphs">160</text>
<line x1="272.30" y1="201.70" x2="275.50" y2="201.70" stroke="#111" stroke-width="0.9"/>
<text x="269.30" y="204.71" font-size="8.42" text-anchor="end" fill="#141414" textLength="12.36" lengthAdjust="spacingAndGlyphs">180</text>
<text x="275.50" y="315.81" font-size="8.42" text-anchor="middle" fill="#141414" textLength="4.12" lengthAdjust="spacingAndGlyphs">0</text>
<line x1="313.30" y1="302.50" x2="313.30" y2="305.50" stroke="#111" stroke-width="0.9"/>
<text x="313.30" y="315.81" font-size="8.42" text-anchor="middle" fill="#141414" textLength="12.36" lengthAdjust="spacingAndGlyphs">200</text>
<line x1="351.10" y1="302.50" x2="351.10" y2="305.50" stroke="#111" stroke-width="0.9"/>
<text x="351.10" y="315.81" font-size="8.42" text-anchor="middle" fill="#141414" textLength="12.36" lengthAdjust="spacingAndGlyphs">400</text>
<line x1="388.90" y1="302.50" x2="388.90" y2="305.50" stroke="#111" stroke-width="0.9"/>
<text x="388.90" y="315.81" font-size="8.42" text-anchor="middle" fill="#141414" textLength="12.36" lengthAdjust="spacingAndGlyphs">600</text>
<line x1="426.70" y1="302.50" x2="426.70" y2="305.50" stroke="#111" stroke-width="0.9"/>
<text x="426.70" y="315.81" font-size="8.42" text-anchor="middle" fill="#141414" textLength="12.36" lengthAdjust="spacingAndGlyphs">800</text>
<text x="247.80" y="253.68" font-size="9.72" text-anchor="middle" fill="#141414" textLength="98.60" lengthAdjust="spacingAndGlyphs" transform="rotate(-90 247.80 250.20)">Platelet aggregation (AU)</text>
<text x="360.60" y="328.08" font-size="9.72" text-anchor="middle" fill="#141414" textLength="39.00" lengthAdjust="spacingAndGlyphs">Time (sec)</text>
<path d="M275.50,302.50 L276.44,302.50 L277.39,302.50 L278.33,302.50 L279.28,302.50 L280.23,302.50 L281.17,302.50 L282.12,302.50 L283.06,302.50 L284.00,302.50 L284.95,302.50 L285.89,302.50 L286.84,302.50 L287.79,302.50 L288.73,302.50 L289.68,302.50 L290.62,302.50 L291.56,302.50 L292.51,302.50 L293.45,302.50 L294.40,302.50 L295.35,302.50 L296.29,302.50 L297.24,302.50 L298.18,302.50 L299.12,302.50 L300.07,302.50 L301.01,302.50 L301.96,302.50 L302.90,302.50 L303.85,302.50 L304.80,302.50 L305.74,302.50 L306.69,302.50 L307.63,302.50 L308.57,302.50 L309.52,302.50 L310.47,302.43 L311.41,302.27 L312.36,302.09 L313.30,301.94 L314.25,301.83 L315.19,301.72 L316.13,301.61 L317.08,301.49 L318.02,301.38 L318.97,301.27 L319.92,301.17 L320.86,301.07 L321.81,300.98 L322.75,300.89 L323.69,300.82 L324.64,300.75 L325.58,300.69 L326.53,300.65 L327.48,300.62 L328.42,300.60 L329.37,300.60 L330.31,300.60 L331.25,300.60 L332.20,300.60 L333.14,300.60 L334.09,300.60 L335.04,300.60 L335.98,300.60 L336.93,300.60 L337.87,300.60 L338.81,300.60 L339.76,300.60 L340.70,300.60 L341.65,300.60 L342.60,300.60 L343.54,300.60 L344.49,300.60 L345.43,300.60 L346.38,300.60 L347.32,300.60 L348.26,300.60 L349.21,300.60 L350.15,300.60 L351.10,300.60 L352.05,300.60 L352.99,300.60 L353.94,300.60 L354.88,300.60 L355.82,300.60 L356.77,300.60 L357.72,300.60 L358.66,300.59 L359.61,300.57 L360.55,300.53 L361.50,300.49 L362.44,300.43 L363.38,300.36 L364.33,300.28 L365.27,300.20 L366.22,300.11 L367.17,300.01 L368.11,299.90 L369.06,299.79 L370.00,299.68 L370.94,299.57 L371.89,299.45 L372.83,299.34 L373.78,299.22 L374.73,299.11 L375.67,299.00 L376.62,298.90 L377.56,298.79 L378.50,298.70 L379.45,298.61 L380.39,298.53 L381.34,298.45 L382.28,298.39 L383.23,298.33 L384.18,298.29 L385.12,298.26 L386.06,298.25 L387.01,298.24 L387.95,298.25 L388.90,298.26 L389.85,298.27 L390.79,298.29 L391.74,298.32 L392.68,298.34 L393.62,298.37 L394.57,298.41 L395.51,298.44 L396.46,298.48 L397.40,298.52 L398.35,298.57 L399.30,298.61 L400.24,298.66 L401.19,298.71 L402.13,298.76 L403.07,298.81 L404.02,298.86 L404.97,298.92 L405.91,299.01 L406.86,299.12 L407.80,299.23 L408.75,299.36 L409.69,299.48 L410.63,299.61 L411.58,299.72 L412.52,299.82 L413.47,299.90 L414.41,299.96 L415.36,299.98 L416.31,299.98 L417.25,299.96 L418.19,299.94 L419.14,299.91 L420.09,299.87 L421.03,299.83 L421.98,299.78 L422.92,299.73 L423.87,299.67 L424.81,299.61 L425.75,299.55 L426.70,299.50 L427.64,299.44 L428.59,299.38 L429.53,299.33 L430.48,299.28 L431.43,299.24 L432.37,299.20 L433.31,299.17 L434.26,299.15 L435.21,299.14 L436.15,299.14 L437.10,299.16 L438.04,299.19 L438.99,299.24 L439.93,299.30 L440.88,299.36 L441.82,299.43 L442.76,299.51 L443.71,299.58 L444.65,299.64 L445.60,299.70" fill="none" stroke="#6aab4a" stroke-width="1.4" stroke-dasharray="1.1 0.9" stroke-linejoin="round" stroke-linecap="butt"/>
<path d="M275.50,302.50 L276.44,302.50 L277.39,302.50 L278.33,302.50 L279.28,302.50 L280.23,302.50 L281.17,302.50 L282.12,302.50 L283.06,302.50 L284.00,302.50 L284.95,302.50 L285.89,302.50 L286.84,302.50 L287.79,302.50 L288.73,302.50 L289.68,302.50 L290.62,302.50 L291.56,302.50 L292.51,302.50 L293.45,302.50 L294.40,302.50 L295.35,302.50 L296.29,302.50 L297.24,302.50 L298.18,302.50 L299.12,302.50 L300.07,302.50 L301.01,302.50 L301.96,302.50 L302.90,302.50 L303.85,302.50 L304.80,302.50 L305.74,302.50 L306.69,302.50 L307.63,302.50 L308.57,302.50 L309.52,302.50 L310.47,302.40 L311.41,302.16 L312.36,301.88 L313.30,301.66 L314.25,301.51 L315.19,301.36 L316.13,301.22 L317.08,301.09 L318.02,300.96 L318.97,300.84 L319.92,300.73 L320.86,300.62 L321.81,300.52 L322.75,300.43 L323.69,300.34 L324.64,300.26 L325.58,300.18 L326.53,300.11 L327.48,300.04 L328.42,299.97 L329.37,299.91 L330.31,299.85 L331.25,299.79 L332.20,299.73 L333.14,299.68 L334.09,299.63 L335.04,299.58 L335.98,299.52 L336.93,299.47 L337.87,299.43 L338.81,299.38 L339.76,299.33 L340.70,299.28 L341.65,299.23 L342.60,299.18 L343.54,299.13 L344.49,299.08 L345.43,299.03 L346.38,298.98 L347.32,298.93 L348.26,298.88 L349.21,298.83 L350.15,298.79 L351.10,298.74 L352.05,298.69 L352.99,298.65 L353.94,298.60 L354.88,298.56 L355.82,298.51 L356.77,298.47 L357.72,298.42 L358.66,298.38 L359.61,298.33 L360.55,298.29 L361.50,298.24 L362.44,298.20 L363.38,298.16 L364.33,298.11 L365.27,298.07 L366.22,298.03 L367.17,297.98 L368.11,297.94 L369.06,297.90 L370.00,297.86 L370.94,297.81 L371.89,297.77 L372.83,297.73 L373.78,297.68 L374.73,297.64 L375.67,297.60 L376.62,297.55 L377.56,297.51 L378.50,297.46 L379.45,297.42 L380.39,297.37 L381.34,297.33 L382.28,297.28 L383.23,297.24 L384.18,297.19 L385.12,297.14 L386.06,297.10 L387.01,297.05 L387.95,297.00 L388.90,296.95 L389.85,296.89 L390.79,296.84 L391.74,296.78 L392.68,296.72 L393.62,296.66 L394.57,296.60 L395.51,296.54 L396.46,296.47 L397.40,296.41 L398.35,296.34 L399.30,296.27 L400.24,296.21 L401.19,296.14 L402.13,296.07 L403.07,296.01 L404.02,295.94 L404.97,295.87 L405.91,295.81 L406.86,295.74 L407.80,295.68 L408.75,295.62 L409.69,295.55 L410.63,295.49 L411.58,295.43 L412.52,295.38 L413.47,295.32 L414.41,295.27 L415.36,295.21 L416.31,295.16 L417.25,295.11 L418.19,295.07 L419.14,295.03 L420.09,294.99 L421.03,294.95 L421.98,294.92 L422.92,294.88 L423.87,294.86 L424.81,294.83 L425.75,294.81 L426.70,294.80 L427.64,294.78 L428.59,294.78 L429.53,294.77 L430.48,294.77 L431.43,294.78 L432.37,294.80 L433.31,294.82 L434.26,294.85 L435.21,294.88 L436.15,294.91 L437.10,294.95 L438.04,294.99 L438.99,295.04 L439.93,295.08 L440.88,295.13 L441.82,295.17 L442.76,295.22 L443.71,295.26 L444.65,295.30 L445.60,295.33" fill="none" stroke="#284680" stroke-width="1.4" stroke-dasharray="1.1 0.9" stroke-linejoin="round" stroke-linecap="butt"/>
<path d="M275.50,302.50 L276.44,302.50 L277.39,302.50 L278.33,302.50 L279.28,302.50 L280.23,302.50 L281.17,302.50 L282.12,302.50 L283.06,302.50 L284.00,302.50 L284.95,302.50 L285.89,302.50 L286.84,302.50 L287.79,302.50 L288.73,302.50 L289.68,302.50 L290.62,302.50 L291.56,302.50 L292.51,302.50 L293.45,302.50 L294.40,302.50 L295.35,302.50 L296.29,302.50 L297.24,302.50 L298.18,302.50 L299.12,302.50 L300.07,302.50 L301.01,302.50 L301.96,302.50 L302.90,302.50 L303.85,302.50 L304.80,302.50 L305.74,302.50 L306.69,302.50 L307.63,302.50 L308.57,302.50 L309.52,302.50 L310.47,302.40 L311.41,302.17 L312.36,301.90 L313.30,301.66 L314.25,301.47 L315.19,301.28 L316.13,301.09 L317.08,300.90 L318.02,300.72 L318.97,300.55 L319.92,300.39 L320.86,300.24 L321.81,300.12 L322.75,300.01 L323.69,299.93 L324.64,299.85 L325.58,299.78 L326.53,299.71 L327.48,299.65 L328.42,299.58 L329.37,299.52 L330.31,299.47 L331.25,299.41 L332.20,299.36 L333.14,299.31 L334.09,299.27 L335.04,299.22 L335.98,299.18 L336.93,299.14 L337.87,299.10 L338.81,299.06 L339.76,299.02 L340.70,298.98 L341.65,298.95 L342.60,298.91 L343.54,298.88 L344.49,298.84 L345.43,298.81 L346.38,298.77 L347.32,298.73 L348.26,298.70 L349.21,298.66 L350.15,298.62 L351.10,298.58 L352.05,298.54 L352.99,298.49 L353.94,298.45 L354.88,298.40 L355.82,298.35 L356.77,298.30 L357.72,298.24 L358.66,298.19 L359.61,298.12 L360.55,298.06 L361.50,297.99 L362.44,297.91 L363.38,297.83 L364.33,297.75 L365.27,297.67 L366.22,297.58 L367.17,297.50 L368.11,297.41 L369.06,297.32 L370.00,297.23 L370.94,297.13 L371.89,297.04 L372.83,296.95 L373.78,296.86 L374.73,296.77 L375.67,296.67 L376.62,296.58 L377.56,296.50 L378.50,296.41 L379.45,296.32 L380.39,296.24 L381.34,296.16 L382.28,296.09 L383.23,296.01 L384.18,295.94 L385.12,295.88 L386.06,295.82 L387.01,295.76 L387.95,295.71 L388.90,295.66 L389.85,295.62 L390.79,295.58 L391.74,295.55 L392.68,295.53 L393.62,295.51 L394.57,295.50 L395.51,295.50 L396.46,295.51 L397.40,295.52 L398.35,295.53 L399.30,295.56 L400.24,295.58 L401.19,295.61 L402.13,295.65 L403.07,295.68 L404.02,295.72 L404.97,295.76 L405.91,295.80 L406.86,295.84 L407.80,295.88 L408.75,295.91 L409.69,295.95 L410.63,295.98 L411.58,296.00 L412.52,296.03 L413.47,296.04 L414.41,296.05 L415.36,296.06 L416.31,296.06 L417.25,296.05 L418.19,296.03 L419.14,296.01 L420.09,295.99 L421.03,295.95 L421.98,295.92 L422.92,295.88 L423.87,295.84 L424.81,295.79 L425.75,295.74 L426.70,295.69 L427.64,295.64 L428.59,295.58 L429.53,295.53 L430.48,295.47 L431.43,295.42 L432.37,295.36 L433.31,295.31 L434.26,295.26 L435.21,295.21 L436.15,295.16 L437.10,295.12 L438.04,295.08 L438.99,295.05 L439.93,295.01 L440.88,294.99 L441.82,294.97 L442.76,294.95 L443.71,294.94 L444.65,294.94 L445.60,294.94" fill="none" stroke="#a82135" stroke-width="1.4" stroke-dasharray="1.1 0.9" stroke-linejoin="round" stroke-linecap="butt"/>
<path d="M275.50,302.50 L276.44,302.50 L277.39,302.50 L278.33,302.50 L279.28,302.50 L280.23,302.50 L281.17,302.50 L282.12,302.50 L283.06,302.50 L284.00,302.50 L284.95,302.50 L285.89,302.50 L286.84,302.50 L287.79,302.50 L288.73,302.50 L289.68,302.50 L290.62,302.50 L291.56,302.50 L292.51,302.50 L293.45,302.50 L294.40,302.50 L295.35,302.50 L296.29,302.50 L297.24,302.50 L298.18,302.50 L299.12,302.50 L300.07,302.50 L301.01,302.50 L301.96,302.50 L302.90,302.50 L303.85,302.50 L304.80,302.50 L305.74,302.50 L306.69,302.50 L307.63,302.28 L308.57,301.97 L309.52,301.62 L310.47,301.22 L311.41,300.78 L312.36,300.28 L313.30,299.73 L314.25,299.14 L315.19,298.40 L316.13,297.48 L317.08,296.46 L318.02,295.42 L318.97,294.45 L319.92,293.60 L320.86,292.80 L321.81,292.03 L322.75,291.27 L323.69,290.53 L324.64,289.79 L325.58,289.04 L326.53,288.29 L327.48,287.54 L328.42,286.79 L329.37,286.05 L330.31,285.30 L331.25,284.55 L332.20,283.80 L333.14,283.02 L334.09,282.23 L335.04,281.44 L335.98,280.65 L336.93,279.88 L337.87,279.14 L338.81,278.46 L339.76,277.83 L340.70,277.26 L341.65,276.69 L342.60,276.11 L343.54,275.48 L344.49,274.77 L345.43,273.99 L346.38,273.16 L347.32,272.30 L348.26,271.43 L349.21,270.57 L350.15,269.72 L351.10,268.92 L352.05,268.17 L352.99,267.43 L353.94,266.69 L354.88,265.96 L355.82,265.25 L356.77,264.56 L357.72,263.90 L358.66,263.27 L359.61,262.68 L360.55,262.13 L361.50,261.61 L362.44,261.11 L363.38,260.62 L364.33,260.16 L365.27,259.70 L366.22,259.26 L367.17,258.83 L368.11,258.41 L369.06,258.00 L370.00,257.59 L370.94,257.18 L371.89,256.77 L372.83,256.36 L373.78,255.94 L374.73,255.52 L375.67,255.09 L376.62,254.65 L377.56,254.21 L378.50,253.76 L379.45,253.32 L380.39,252.88 L381.34,252.44 L382.28,252.02 L383.23,251.61 L384.18,251.22 L385.12,250.84 L386.06,250.49 L387.01,250.15 L387.95,249.83 L388.90,249.51 L389.85,249.20 L390.79,248.90 L391.74,248.61 L392.68,248.32 L393.62,248.04 L394.57,247.77 L395.51,247.51 L396.46,247.25 L397.40,246.99 L398.35,246.74 L399.30,246.50 L400.24,246.26 L401.19,246.03 L402.13,245.80 L403.07,245.59 L404.02,245.38 L404.97,245.17 L405.91,244.97 L406.86,244.78 L407.80,244.59 L408.75,244.41 L409.69,244.22 L410.63,244.04 L411.58,243.86 L412.52,243.67 L413.47,243.49 L414.41,243.30 L415.36,243.11 L416.31,242.91 L417.25,242.71 L418.19,242.48 L419.14,242.23 L420.09,241.97 L421.03,241.69 L421.98,241.40 L422.92,241.11 L423.87,240.82 L424.81,240.54 L425.75,240.27 L426.70,240.03 L427.64,239.80 L428.59,239.61 L429.53,239.45 L430.48,239.32 L431.43,239.25 L432.37,239.22 L433.31,239.22 L434.26,239.22 L435.21,239.22 L436.15,239.22 L437.10,239.22 L438.04,239.22 L438.99,239.22 L439.93,239.22 L440.88,239.22 L441.82,239.22 L442.76,239.22 L443.71,239.22 L444.65,239.22 L445.60,239.22" fill="none" stroke="#6aab4a" stroke-width="1.5" stroke-linejoin="round" stroke-linecap="butt"/>
<path d="M275.50,302.50 L276.44,302.50 L277.39,302.50 L278.33,302.50 L279.28,302.50 L280.23,302.50 L281.17,302.50 L282.12,302.50 L283.06,302.50 L284.00,302.50 L284.95,302.50 L285.89,302.50 L286.84,302.50 L287.79,302.50 L288.73,302.50 L289.68,302.50 L290.62,302.50 L291.56,302.50 L292.51,302.50 L293.45,302.50 L294.40,302.50 L295.35,302.50 L296.29,302.50 L297.24,302.50 L298.18,302.50 L299.12,302.50 L300.07,302.50 L301.01,302.50 L301.96,302.50 L302.90,302.50 L303.85,302.37 L304.80,302.05 L305.74,301.15 L306.69,299.82 L307.63,298.33 L308.57,296.96 L309.52,295.71 L310.47,294.44 L311.41,293.17 L312.36,291.90 L313.30,290.66 L314.25,289.46 L315.19,288.28 L316.13,287.11 L317.08,285.97 L318.02,284.88 L318.97,283.83 L319.92,282.83 L320.86,281.86 L321.81,280.93 L322.75,280.02 L323.69,279.15 L324.64,278.30 L325.58,277.48 L326.53,276.68 L327.48,275.92 L328.42,275.18 L329.37,274.47 L330.31,273.81 L331.25,273.17 L332.20,272.54 L333.14,271.92 L334.09,271.28 L335.04,270.63 L335.98,269.96 L336.93,269.31 L337.87,268.69 L338.81,268.12 L339.76,267.59 L340.70,267.09 L341.65,266.62 L342.60,266.16 L343.54,265.71 L344.49,265.26 L345.43,264.79 L346.38,264.31 L347.32,263.82 L348.26,263.33 L349.21,262.83 L350.15,262.33 L351.10,261.85 L352.05,261.38 L352.99,260.93 L353.94,260.50 L354.88,260.10 L355.82,259.72 L356.77,259.35 L357.72,258.99 L358.66,258.65 L359.61,258.31 L360.55,257.97 L361.50,257.64 L362.44,257.30 L363.38,256.96 L364.33,256.61 L365.27,256.24 L366.22,255.87 L367.17,255.47 L368.11,255.06 L369.06,254.63 L370.00,254.20 L370.94,253.78 L371.89,253.36 L372.83,252.96 L373.78,252.58 L374.73,252.23 L375.67,251.91 L376.62,251.61 L377.56,251.32 L378.50,251.04 L379.45,250.77 L380.39,250.51 L381.34,250.25 L382.28,250.00 L383.23,249.76 L384.18,249.51 L385.12,249.26 L386.06,249.01 L387.01,248.76 L387.95,248.48 L388.90,248.18 L389.85,247.88 L390.79,247.57 L391.74,247.26 L392.68,246.96 L393.62,246.66 L394.57,246.37 L395.51,246.10 L396.46,245.86 L397.40,245.64 L398.35,245.45 L399.30,245.30 L400.24,245.18 L401.19,245.11 L402.13,245.09 L403.07,245.06 L404.02,245.04 L404.97,245.02 L405.91,245.01 L406.86,244.99 L407.80,244.98 L408.75,244.96 L409.69,244.95 L410.63,244.94 L411.58,244.93 L412.52,244.92 L413.47,244.91 L414.41,244.90 L415.36,244.90 L416.31,244.89 L417.25,244.88 L418.19,244.87 L419.14,244.86 L420.09,244.85 L421.03,244.84 L421.98,244.83 L422.92,244.82 L423.87,244.81 L424.81,244.80 L425.75,244.79 L426.70,244.77 L427.64,244.76 L428.59,244.75 L429.53,244.74 L430.48,244.73 L431.43,244.72 L432.37,244.70 L433.31,244.69 L434.26,244.68 L435.21,244.67 L436.15,244.66 L437.10,244.65 L438.04,244.63 L438.99,244.62 L439.93,244.61 L440.88,244.60 L441.82,244.59 L442.76,244.58 L443.71,244.56 L444.65,244.55 L445.60,244.54" fill="none" stroke="#2e4a82" stroke-width="1.5" stroke-linejoin="round" stroke-linecap="butt"/>
<path d="M275.50,302.50 L276.44,302.50 L277.39,302.50 L278.33,302.50 L279.28,302.50 L280.23,302.50 L281.17,302.50 L282.12,302.50 L283.06,302.50 L284.00,302.50 L284.95,302.50 L285.89,302.50 L286.84,302.50 L287.79,302.50 L288.73,302.50 L289.68,302.50 L290.62,302.50 L291.56,302.50 L292.51,302.50 L293.45,302.50 L294.40,302.50 L295.35,302.50 L296.29,302.50 L297.24,302.50 L298.18,302.50 L299.12,302.50 L300.07,302.50 L301.01,302.50 L301.96,302.50 L302.90,302.50 L303.85,302.50 L304.80,302.50 L305.74,302.50 L306.69,302.50 L307.63,302.50 L308.57,302.50 L309.52,302.40 L310.47,302.15 L311.41,301.34 L312.36,299.99 L313.30,298.42 L314.25,296.77 L315.19,294.74 L316.13,292.59 L317.08,290.66 L318.02,288.92 L318.97,287.27 L319.92,285.73 L320.86,284.29 L321.81,282.94 L322.75,281.65 L323.69,280.41 L324.64,279.20 L325.58,278.02 L326.53,276.86 L327.48,275.75 L328.42,274.65 L329.37,273.57 L330.31,272.48 L331.25,271.38 L332.20,270.28 L333.14,269.18 L334.09,268.09 L335.04,267.02 L335.98,265.96 L336.93,264.88 L337.87,263.80 L338.81,262.76 L339.76,261.78 L340.70,260.89 L341.65,260.09 L342.60,259.34 L343.54,258.64 L344.49,257.95 L345.43,257.28 L346.38,256.60 L347.32,255.93 L348.26,255.28 L349.21,254.64 L350.15,254.02 L351.10,253.43 L352.05,252.85 L352.99,252.26 L353.94,251.70 L354.88,251.16 L355.82,250.65 L356.77,250.18 L357.72,249.75 L358.66,249.37 L359.61,249.01 L360.55,248.67 L361.50,248.35 L362.44,248.04 L363.38,247.73 L364.33,247.42 L365.27,247.09 L366.22,246.76 L367.17,246.41 L368.11,246.07 L369.06,245.72 L370.00,245.37 L370.94,245.02 L371.89,244.67 L372.83,244.32 L373.78,243.97 L374.73,243.62 L375.67,243.26 L376.62,242.90 L377.56,242.54 L378.50,242.17 L379.45,241.79 L380.39,241.42 L381.34,241.04 L382.28,240.67 L383.23,240.30 L384.18,239.94 L385.12,239.58 L386.06,239.22 L387.01,238.88 L387.95,238.55 L388.90,238.23 L389.85,237.91 L390.79,237.61 L391.74,237.30 L392.68,237.00 L393.62,236.70 L394.57,236.40 L395.51,236.11 L396.46,235.83 L397.40,235.55 L398.35,235.28 L399.30,235.01 L400.24,234.75 L401.19,234.50 L402.13,234.25 L403.07,234.02 L404.02,233.79 L404.97,233.58 L405.91,233.37 L406.86,233.17 L407.80,232.99 L408.75,232.80 L409.69,232.63 L410.63,232.46 L411.58,232.29 L412.52,232.13 L413.47,231.97 L414.41,231.81 L415.36,231.66 L416.31,231.50 L417.25,231.34 L418.19,231.18 L419.14,231.01 L420.09,230.84 L421.03,230.67 L421.98,230.49 L422.92,230.30 L423.87,230.09 L424.81,229.86 L425.75,229.61 L426.70,229.34 L427.64,229.07 L428.59,228.79 L429.53,228.53 L430.48,228.27 L431.43,228.04 L432.37,227.84 L433.31,227.67 L434.26,227.54 L435.21,227.47 L436.15,227.43 L437.10,227.40 L438.04,227.38 L438.99,227.36 L439.93,227.34 L440.88,227.32 L441.82,227.30 L442.76,227.29 L443.71,227.27 L444.65,227.26 L445.60,227.24" fill="none" stroke="#a82135" stroke-width="1.5" stroke-linejoin="round" stroke-linecap="butt"/>
<line x1="284.20" y1="202.20" x2="296.60" y2="202.20" stroke="#a82135" stroke-width="1.3"/>
<text x="299.60" y="205.21" font-size="7.02" text-anchor="start" fill="#1a1a1a" textLength="11.50" lengthAdjust="spacingAndGlyphs">HIT1</text>
<line x1="284.20" y1="212.00" x2="296.60" y2="212.00" stroke="#a82135" stroke-width="1.15" stroke-dasharray="0.9 0.9"/>
<text x="299.60" y="215.01" font-size="7.02" text-anchor="start" fill="#1a1a1a" textLength="24.30" lengthAdjust="spacingAndGlyphs">HIT1 IdeS</text>
<line x1="284.20" y1="221.90" x2="296.60" y2="221.90" stroke="#2e4a82" stroke-width="1.3"/>
<text x="299.60" y="224.91" font-size="7.02" text-anchor="start" fill="#1a1a1a" textLength="11.50" lengthAdjust="spacingAndGlyphs">HIT2</text>
<line x1="284.20" y1="231.60" x2="296.60" y2="231.60" stroke="#2e4a82" stroke-width="1.15" stroke-dasharray="0.9 0.9"/>
<text x="299.60" y="234.61" font-size="7.02" text-anchor="start" fill="#1a1a1a" textLength="24.30" lengthAdjust="spacingAndGlyphs">HIT2 IdeS</text>
<line x1="284.20" y1="241.70" x2="296.60" y2="241.70" stroke="#6aab4a" stroke-width="1.3"/>
<text x="299.60" y="244.71" font-size="7.02" text-anchor="start" fill="#1a1a1a" textLength="11.50" lengthAdjust="spacingAndGlyphs">HIT3</text>
<line x1="284.20" y1="251.50" x2="296.60" y2="251.50" stroke="#6aab4a" stroke-width="1.15" stroke-dasharray="0.9 0.9"/>
<text x="299.60" y="254.51" font-size="7.02" text-anchor="start" fill="#1a1a1a" textLength="24.30" lengthAdjust="spacingAndGlyphs">HIT3 IdeS</text>
<text x="16.15" y="355.66" font-size="12.31" text-anchor="middle" fill="#111" textLength="7.50" lengthAdjust="spacingAndGlyphs">C</text>
<line x1="53.50" y1="472.70" x2="53.50" y2="359.50" stroke="#111" stroke-width="1.05"/>
<line x1="53.50" y1="469.70" x2="205.15" y2="469.70" stroke="#111" stroke-width="1.05"/>
<line x1="50.30" y1="469.70" x2="53.50" y2="469.70" stroke="#111" stroke-width="0.9"/>
<text x="47.30" y="472.71" font-size="8.42" text-anchor="end" fill="#141414" textLength="4.12" lengthAdjust="spacingAndGlyphs">0</text>
<line x1="50.30" y1="458.91" x2="53.50" y2="458.91" stroke="#111" stroke-width="0.9"/>
<text x="47.30" y="461.92" font-size="8.42" text-anchor="end" fill="#141414" textLength="8.24" lengthAdjust="spacingAndGlyphs">20</text>
<line x1="50.30" y1="448.12" x2="53.50" y2="448.12" stroke="#111" stroke-width="0.9"/>
<text x="47.30" y="451.13" font-size="8.42" text-anchor="end" fill="#141414" textLength="8.24" lengthAdjust="spacingAndGlyphs">40</text>
<line x1="50.30" y1="437.33" x2="53.50" y2="437.33" stroke="#111" stroke-width="0.9"/>
<text x="47.30" y="440.34" font-size="8.42" text-anchor="end" fill="#141414" textLength="8.24" lengthAdjust="spacingAndGlyphs">60</text>
<line x1="50.30" y1="426.54" x2="53.50" y2="426.54" stroke="#111" stroke-width="0.9"/>
<text x="47.30" y="429.55" font-size="8.42" text-anchor="end" fill="#141414" textLength="8.24" lengthAdjust="spacingAndGlyphs">80</text>
<line x1="50.30" y1="415.75" x2="53.50" y2="415.75" stroke="#111" stroke-width="0.9"/>
<text x="47.30" y="418.76" font-size="8.42" text-anchor="end" fill="#141414" textLength="12.36" lengthAdjust="spacingAndGlyphs">100</text>
<line x1="50.30" y1="404.96" x2="53.50" y2="404.96" stroke="#111" stroke-width="0.9"/>
<text x="47.30" y="407.97" font-size="8.42" text-anchor="end" fill="#141414" textLength="12.36" lengthAdjust="spacingAndGlyphs">120</text>
<line x1="50.30" y1="394.17" x2="53.50" y2="394.17" stroke="#111" stroke-width="0.9"/>
<text x="47.30" y="397.18" font-size="8.42" text-anchor="end" fill="#141414" textLength="12.36" lengthAdjust="spacingAndGlyphs">140</text>
<line x1="50.30" y1="383.38" x2="53.50" y2="383.38" stroke="#111" stroke-width="0.9"/>
<text x="47.30" y="386.39" font-size="8.42" text-anchor="end" fill="#141414" textLength="12.36" lengthAdjust="spacingAndGlyphs">160</text>
<line x1="50.30" y1="372.59" x2="53.50" y2="372.59" stroke="#111" stroke-width="0.9"/>
<text x="47.30" y="375.60" font-size="8.42" text-anchor="end" fill="#141414" textLength="12.36" lengthAdjust="spacingAndGlyphs">180</text>
<line x1="50.30" y1="361.80" x2="53.50" y2="361.80" stroke="#111" stroke-width="0.9"/>
<text x="47.30" y="364.81" font-size="8.42" text-anchor="end" fill="#141414" textLength="12.36" lengthAdjust="spacingAndGlyphs">200</text>
<text x="53.50" y="483.31" font-size="8.42" text-anchor="middle" fill="#141414" textLength="4.12" lengthAdjust="spacingAndGlyphs">0</text>
<line x1="87.20" y1="469.70" x2="87.20" y2="472.70" stroke="#111" stroke-width="0.9"/>
<text x="87.20" y="483.31" font-size="8.42" text-anchor="middle" fill="#141414" textLength="12.36" lengthAdjust="spacingAndGlyphs">200</text>
<line x1="120.90" y1="469.70" x2="120.90" y2="472.70" stroke="#111" stroke-width="0.9"/>
<text x="120.90" y="483.31" font-size="8.42" text-anchor="middle" fill="#141414" textLength="12.36" lengthAdjust="spacingAndGlyphs">400</text>
<line x1="154.60" y1="469.70" x2="154.60" y2="472.70" stroke="#111" stroke-width="0.9"/>
<text x="154.60" y="483.31" font-size="8.42" text-anchor="middle" fill="#141414" textLength="12.36" lengthAdjust="spacingAndGlyphs">600</text>
<line x1="188.30" y1="469.70" x2="188.30" y2="472.70" stroke="#111" stroke-width="0.9"/>
<text x="188.30" y="483.31" font-size="8.42" text-anchor="middle" fill="#141414" textLength="12.36" lengthAdjust="spacingAndGlyphs">800</text>
<text x="25.80" y="418.33" font-size="9.72" text-anchor="middle" fill="#141414" textLength="98.30" lengthAdjust="spacingAndGlyphs" transform="rotate(-90 25.80 414.85)">Platelet aggregation (AU)</text>
<text x="128.60" y="496.68" font-size="9.72" text-anchor="middle" fill="#141414" textLength="39.00" lengthAdjust="spacingAndGlyphs">Time (sec)</text>
<path d="M53.50,469.70 L54.34,469.67 L55.19,469.64 L56.03,469.61 L56.87,469.58 L57.71,469.55 L58.55,469.50 L59.40,469.44 L60.24,469.32 L61.08,469.06 L61.92,468.68 L62.77,468.21 L63.61,467.70 L64.45,467.16 L65.30,466.52 L66.14,465.72 L66.98,464.80 L67.82,463.77 L68.67,462.39 L69.51,460.72 L70.35,459.17 L71.19,457.97 L72.03,456.92 L72.88,455.96 L73.72,455.03 L74.56,454.05 L75.41,452.98 L76.25,451.74 L77.09,450.40 L77.93,449.08 L78.78,447.90 L79.62,446.81 L80.46,445.75 L81.30,444.73 L82.15,443.74 L82.99,442.78 L83.83,441.84 L84.67,440.93 L85.52,440.04 L86.36,439.18 L87.20,438.33 L88.04,437.49 L88.89,436.68 L89.73,435.88 L90.57,435.10 L91.41,434.34 L92.25,433.59 L93.10,432.86 L93.94,432.13 L94.78,431.42 L95.62,430.73 L96.47,430.03 L97.31,429.35 L98.15,428.68 L99.00,428.00 L99.84,427.34 L100.68,426.67 L101.52,426.01 L102.37,425.35 L103.21,424.68 L104.05,424.03 L104.89,423.37 L105.74,422.72 L106.58,422.07 L107.42,421.44 L108.26,420.81 L109.11,420.18 L109.95,419.57 L110.79,418.97 L111.63,418.38 L112.47,417.80 L113.32,417.24 L114.16,416.69 L115.00,416.16 L115.84,415.65 L116.69,415.15 L117.53,414.67 L118.37,414.21 L119.22,413.76 L120.06,413.32 L120.90,412.89 L121.74,412.46 L122.59,412.04 L123.43,411.62 L124.27,411.20 L125.11,410.78 L125.95,410.36 L126.80,409.92 L127.64,409.49 L128.48,409.05 L129.32,408.61 L130.17,408.17 L131.01,407.73 L131.85,407.30 L132.69,406.88 L133.54,406.47 L134.38,406.07 L135.22,405.68 L136.06,405.31 L136.91,404.96 L137.75,404.62 L138.59,404.29 L139.44,403.97 L140.28,403.65 L141.12,403.35 L141.96,403.05 L142.81,402.76 L143.65,402.48 L144.49,402.20 L145.33,401.93 L146.18,401.68 L147.02,401.43 L147.86,401.18 L148.70,400.95 L149.55,400.71 L150.39,400.49 L151.23,400.26 L152.07,400.04 L152.92,399.83 L153.76,399.63 L154.60,399.44 L155.44,399.25 L156.29,399.07 L157.13,398.91 L157.97,398.76 L158.81,398.61 L159.66,398.47 L160.50,398.34 L161.34,398.21 L162.18,398.09 L163.03,397.97 L163.87,397.86 L164.71,397.75 L165.55,397.65 L166.40,397.55 L167.24,397.46 L168.08,397.37 L168.92,397.28 L169.76,397.19 L170.61,397.11 L171.45,397.02 L172.29,396.93 L173.13,396.85 L173.98,396.76 L174.82,396.68 L175.66,396.60 L176.50,396.53 L177.35,396.45 L178.19,396.38 L179.03,396.31 L179.88,396.24 L180.72,396.18 L181.56,396.12 L182.40,396.06 L183.25,396.01 L184.09,395.97 L184.93,395.92 L185.77,395.89 L186.62,395.85 L187.46,395.83 L188.30,395.80 L189.14,395.78 L189.99,395.75 L190.83,395.73 L191.67,395.71 L192.51,395.69 L193.36,395.68 L194.20,395.66 L195.04,395.64 L195.88,395.63 L196.73,395.61 L197.57,395.60 L198.41,395.59 L199.25,395.57 L200.09,395.56 L200.94,395.54 L201.78,395.53 L202.62,395.51 L203.47,395.50 L204.31,395.48 L205.15,395.46" fill="none" stroke="#284680" stroke-width="1.4" stroke-dasharray="3.1 1.9" stroke-linejoin="round" stroke-linecap="butt"/>
<path d="M53.50,469.70 L54.34,469.67 L55.19,469.64 L56.03,469.61 L56.87,469.58 L57.71,469.55 L58.55,469.50 L59.40,469.44 L60.24,469.33 L61.08,469.10 L61.92,468.77 L62.77,468.37 L63.61,467.92 L64.45,467.44 L65.30,466.86 L66.14,466.13 L66.98,465.28 L67.82,464.31 L68.67,463.00 L69.51,461.35 L70.35,459.73 L71.19,458.44 L72.03,457.34 L72.88,456.33 L73.72,455.38 L74.56,454.46 L75.41,453.51 L76.25,452.56 L77.09,451.62 L77.93,450.70 L78.78,449.78 L79.62,448.86 L80.46,447.93 L81.30,447.00 L82.15,446.05 L82.99,445.09 L83.83,444.13 L84.67,443.17 L85.52,442.22 L86.36,441.28 L87.20,440.37 L88.04,439.48 L88.89,438.62 L89.73,437.80 L90.57,437.02 L91.41,436.27 L92.25,435.53 L93.10,434.81 L93.94,434.11 L94.78,433.42 L95.62,432.75 L96.47,432.09 L97.31,431.44 L98.15,430.80 L99.00,430.18 L99.84,429.56 L100.68,428.94 L101.52,428.34 L102.37,427.73 L103.21,427.14 L104.05,426.54 L104.89,425.95 L105.74,425.35 L106.58,424.77 L107.42,424.18 L108.26,423.60 L109.11,423.02 L109.95,422.45 L110.79,421.88 L111.63,421.32 L112.47,420.77 L113.32,420.23 L114.16,419.69 L115.00,419.16 L115.84,418.64 L116.69,418.13 L117.53,417.63 L118.37,417.14 L119.22,416.67 L120.06,416.20 L120.90,415.75 L121.74,415.31 L122.59,414.89 L123.43,414.48 L124.27,414.08 L125.11,413.68 L125.95,413.30 L126.80,412.92 L127.64,412.55 L128.48,412.19 L129.32,411.82 L130.17,411.46 L131.01,411.09 L131.85,410.73 L132.69,410.36 L133.54,409.98 L134.38,409.60 L135.22,409.23 L136.06,408.85 L136.91,408.47 L137.75,408.10 L138.59,407.72 L139.44,407.35 L140.28,406.99 L141.12,406.63 L141.96,406.28 L142.81,405.93 L143.65,405.60 L144.49,405.27 L145.33,404.96 L146.18,404.65 L147.02,404.35 L147.86,404.05 L148.70,403.76 L149.55,403.47 L150.39,403.18 L151.23,402.91 L152.07,402.63 L152.92,402.37 L153.76,402.11 L154.60,401.85 L155.44,401.61 L156.29,401.37 L157.13,401.14 L157.97,400.91 L158.81,400.70 L159.66,400.48 L160.50,400.27 L161.34,400.06 L162.18,399.86 L163.03,399.67 L163.87,399.48 L164.71,399.31 L165.55,399.14 L166.40,398.98 L167.24,398.84 L168.08,398.70 L168.92,398.57 L169.76,398.45 L170.61,398.32 L171.45,398.20 L172.29,398.09 L173.13,397.97 L173.98,397.86 L174.82,397.76 L175.66,397.66 L176.50,397.56 L177.35,397.47 L178.19,397.38 L179.03,397.30 L179.88,397.22 L180.72,397.15 L181.56,397.08 L182.40,397.02 L183.25,396.96 L184.09,396.91 L184.93,396.87 L185.77,396.82 L186.62,396.77 L187.46,396.73 L188.30,396.69 L189.14,396.65 L189.99,396.62 L190.83,396.58 L191.67,396.55 L192.51,396.52 L193.36,396.49 L194.20,396.45 L195.04,396.42 L195.88,396.39 L196.73,396.37 L197.57,396.34 L198.41,396.31 L199.25,396.28 L200.09,396.25 L200.94,396.22 L201.78,396.19 L202.62,396.16 L203.47,396.13 L204.31,396.09 L205.15,396.06" fill="none" stroke="#284680" stroke-width="1.5" stroke-linejoin="round" stroke-linecap="butt"/>
<path d="M53.50,469.70 L54.34,467.09 L55.19,464.48 L56.03,461.86 L56.87,459.25 L57.71,456.65 L58.55,454.05 L59.40,451.43 L60.24,448.77 L61.08,446.11 L61.92,443.49 L62.77,440.96 L63.61,438.56 L64.45,436.30 L65.30,434.12 L66.14,432.03 L66.98,430.02 L67.82,428.11 L68.67,426.29 L69.51,424.57 L70.35,422.94 L71.19,421.37 L72.03,419.85 L72.88,418.35 L73.72,416.88 L74.56,415.39 L75.41,413.94 L76.25,412.51 L77.09,411.10 L77.93,409.70 L78.78,408.32 L79.62,406.93 L80.46,405.52 L81.30,404.10 L82.15,402.65 L82.99,401.18 L83.83,399.71 L84.67,398.26 L85.52,396.84 L86.36,395.47 L87.20,394.17 L88.04,392.93 L88.89,391.72 L89.73,390.54 L90.57,389.39 L91.41,388.27 L92.25,387.18 L93.10,386.11 L93.94,385.07 L94.78,384.05 L95.62,383.03 L96.47,382.01 L97.31,381.00 L98.15,380.00 L99.00,379.04 L99.84,378.10 L100.68,377.21 L101.52,376.37 L102.37,375.59 L103.21,374.88 L104.05,374.22 L104.89,373.54 L105.74,372.87 L106.58,372.21 L107.42,371.57 L108.26,370.97 L109.11,370.42 L109.95,369.93 L110.79,369.51 L111.63,369.17 L112.47,368.93 L113.32,368.79 L114.16,368.69 L115.00,368.60 L115.84,368.51 L116.69,368.43 L117.53,368.36 L118.37,368.29 L119.22,368.23 L120.06,368.17 L120.90,368.12 L121.74,368.08 L122.59,368.05 L123.43,368.03 L124.27,368.01 L125.11,368.00 L125.95,368.02 L126.80,368.09 L127.64,368.22 L128.48,368.40 L129.32,368.61 L130.17,368.86 L131.01,369.13 L131.85,369.41 L132.69,369.69 L133.54,369.97 L134.38,370.24 L135.22,370.48 L136.06,370.71 L136.91,370.95 L137.75,371.19 L138.59,371.43 L139.44,371.67 L140.28,371.93 L141.12,372.18 L141.96,372.45 L142.81,372.72 L143.65,373.00 L144.49,373.29 L145.33,373.59 L146.18,373.93 L147.02,374.30 L147.86,374.69 L148.70,375.09 L149.55,375.49 L150.39,375.90 L151.23,376.30 L152.07,376.69 L152.92,377.05 L153.76,377.39 L154.60,377.70 L155.44,377.97 L156.29,378.19 L157.13,378.38 L157.97,378.56 L158.81,378.73 L159.66,378.88 L160.50,379.03 L161.34,379.16 L162.18,379.29 L163.03,379.42 L163.87,379.55 L164.71,379.67 L165.55,379.80 L166.40,379.93 L167.24,380.06 L168.08,380.20 L168.92,380.34 L169.76,380.48 L170.61,380.62 L171.45,380.76 L172.29,380.90 L173.13,381.04 L173.98,381.18 L174.82,381.31 L175.66,381.45 L176.50,381.59 L177.35,381.73 L178.19,381.87 L179.03,382.00 L179.88,382.14 L180.72,382.29 L181.56,382.44 L182.40,382.59 L183.25,382.74 L184.09,382.90 L184.93,383.05 L185.77,383.19 L186.62,383.34 L187.46,383.47 L188.30,383.60 L189.14,383.72 L189.99,383.82 L190.83,383.92 L191.67,384.00 L192.51,384.08 L193.36,384.16 L194.20,384.23 L195.04,384.30 L195.88,384.36 L196.73,384.42 L197.57,384.48 L198.41,384.54 L199.25,384.60 L200.09,384.65 L200.94,384.71 L201.78,384.76 L202.62,384.82 L203.47,384.88 L204.31,384.94 L205.15,385.00" fill="none" stroke="#a82135" stroke-width="1.4" stroke-dasharray="3.1 1.9" stroke-linejoin="round" stroke-linecap="butt"/>
<path d="M53.50,469.70 L54.34,467.73 L55.19,465.78 L56.03,463.83 L56.87,461.87 L57.71,459.87 L58.55,457.83 L59.40,455.73 L60.24,453.57 L61.08,451.38 L61.92,449.20 L62.77,447.04 L63.61,444.90 L64.45,442.75 L65.30,440.63 L66.14,438.55 L66.98,436.53 L67.82,434.55 L68.67,432.61 L69.51,430.71 L70.35,428.87 L71.19,427.08 L72.03,425.34 L72.88,423.64 L73.72,421.97 L74.56,420.35 L75.41,418.76 L76.25,417.23 L77.09,415.75 L77.93,414.33 L78.78,412.96 L79.62,411.64 L80.46,410.35 L81.30,409.08 L82.15,407.81 L82.99,406.53 L83.83,405.23 L84.67,403.89 L85.52,402.51 L86.36,401.12 L87.20,399.73 L88.04,398.37 L88.89,397.07 L89.73,395.84 L90.57,394.71 L91.41,393.67 L92.25,392.68 L93.10,391.75 L93.94,390.85 L94.78,389.98 L95.62,389.13 L96.47,388.29 L97.31,387.45 L98.15,386.59 L99.00,385.72 L99.84,384.81 L100.68,383.86 L101.52,382.90 L102.37,381.92 L103.21,380.93 L104.05,379.95 L104.89,378.98 L105.74,378.03 L106.58,377.12 L107.42,376.24 L108.26,375.41 L109.11,374.64 L109.95,373.93 L110.79,373.29 L111.63,372.65 L112.47,372.04 L113.32,371.45 L114.16,370.90 L115.00,370.38 L115.84,369.92 L116.69,369.52 L117.53,369.19 L118.37,368.93 L119.22,368.70 L120.06,368.49 L120.90,368.30 L121.74,368.13 L122.59,367.98 L123.43,367.85 L124.27,367.73 L125.11,367.63 L125.95,367.52 L126.80,367.42 L127.64,367.33 L128.48,367.24 L129.32,367.16 L130.17,367.09 L131.01,367.04 L131.85,367.00 L132.69,366.98 L133.54,366.99 L134.38,367.06 L135.22,367.19 L136.06,367.35 L136.91,367.55 L137.75,367.76 L138.59,367.99 L139.44,368.22 L140.28,368.43 L141.12,368.62 L141.96,368.83 L142.81,369.05 L143.65,369.27 L144.49,369.50 L145.33,369.73 L146.18,369.95 L147.02,370.14 L147.86,370.32 L148.70,370.46 L149.55,370.58 L150.39,370.70 L151.23,370.82 L152.07,370.92 L152.92,371.02 L153.76,371.11 L154.60,371.20 L155.44,371.28 L156.29,371.36 L157.13,371.43 L157.97,371.50 L158.81,371.56 L159.66,371.61 L160.50,371.66 L161.34,371.70 L162.18,371.73 L163.03,371.77 L163.87,371.81 L164.71,371.85 L165.55,371.90 L166.40,371.95 L167.24,372.01 L168.08,372.08 L168.92,372.19 L169.76,372.31 L170.61,372.46 L171.45,372.63 L172.29,372.80 L173.13,372.96 L173.98,373.12 L174.82,373.27 L175.66,373.39 L176.50,373.50 L177.35,373.60 L178.19,373.69 L179.03,373.78 L179.88,373.87 L180.72,373.95 L181.56,374.03 L182.40,374.12 L183.25,374.21 L184.09,374.31 L184.93,374.43 L185.77,374.55 L186.62,374.69 L187.46,374.86 L188.30,375.11 L189.14,375.42 L189.99,375.77 L190.83,376.13 L191.67,376.48 L192.51,376.79 L193.36,377.04 L194.20,377.20 L195.04,377.26 L195.88,377.31 L196.73,377.35 L197.57,377.39 L198.41,377.42 L199.25,377.44 L200.09,377.47 L200.94,377.49 L201.78,377.51 L202.62,377.53 L203.47,377.55 L204.31,377.58 L205.15,377.61" fill="none" stroke="#a82135" stroke-width="1.5" stroke-linejoin="round" stroke-linecap="butt"/>
<line x1="149.00" y1="427.80" x2="161.10" y2="427.80" stroke="#a82135" stroke-width="1.3"/>
<text x="164.40" y="430.81" font-size="7.02" text-anchor="start" fill="#1a1a1a" textLength="23.50" lengthAdjust="spacingAndGlyphs">Collagen</text>
<line x1="149.00" y1="437.90" x2="161.10" y2="437.90" stroke="#a82135" stroke-width="1.15" stroke-dasharray="3.1 1.9"/>
<text x="164.40" y="440.91" font-size="7.02" text-anchor="start" fill="#1a1a1a" textLength="36.50" lengthAdjust="spacingAndGlyphs">Collagen IdeS</text>
<line x1="149.00" y1="447.70" x2="161.10" y2="447.70" stroke="#284680" stroke-width="1.3"/>
<text x="164.40" y="450.71" font-size="7.02" text-anchor="start" fill="#1a1a1a" textLength="11.70" lengthAdjust="spacingAndGlyphs">ADP</text>
<line x1="149.00" y1="457.50" x2="161.10" y2="457.50" stroke="#284680" stroke-width="1.15" stroke-dasharray="3.1 1.9"/>
<text x="164.40" y="460.51" font-size="7.02" text-anchor="start" fill="#1a1a1a" textLength="24.40" lengthAdjust="spacingAndGlyphs">ADP IdeS</text>
<text x="238.30" y="355.41" font-size="12.31" text-anchor="middle" fill="#111" textLength="6.40" lengthAdjust="spacingAndGlyphs">F</text>
<line x1="275.60" y1="472.90" x2="275.60" y2="371.40" stroke="#111" stroke-width="1.05"/>
<line x1="275.60" y1="469.90" x2="425.70" y2="469.90" stroke="#111" stroke-width="1.05"/>
<line x1="272.40" y1="469.90" x2="275.60" y2="469.90" stroke="#111" stroke-width="0.9"/>
<text x="269.40" y="472.91" font-size="8.42" text-anchor="end" fill="#141414" textLength="4.12" lengthAdjust="spacingAndGlyphs">0</text>
<line x1="272.40" y1="460.30" x2="275.60" y2="460.30" stroke="#111" stroke-width="0.9"/>
<text x="269.40" y="463.31" font-size="8.42" text-anchor="end" fill="#141414" textLength="8.24" lengthAdjust="spacingAndGlyphs">10</text>
<line x1="272.40" y1="450.70" x2="275.60" y2="450.70" stroke="#111" stroke-width="0.9"/>
<text x="269.40" y="453.71" font-size="8.42" text-anchor="end" fill="#141414" textLength="8.24" lengthAdjust="spacingAndGlyphs">20</text>
<line x1="272.40" y1="441.10" x2="275.60" y2="441.10" stroke="#111" stroke-width="0.9"/>
<text x="269.40" y="444.11" font-size="8.42" text-anchor="end" fill="#141414" textLength="8.24" lengthAdjust="spacingAndGlyphs">30</text>
<line x1="272.40" y1="431.50" x2="275.60" y2="431.50" stroke="#111" stroke-width="0.9"/>
<text x="269.40" y="434.51" font-size="8.42" text-anchor="end" fill="#141414" textLength="8.24" lengthAdjust="spacingAndGlyphs">40</text>
<line x1="272.40" y1="421.90" x2="275.60" y2="421.90" stroke="#111" stroke-width="0.9"/>
<text x="269.40" y="424.91" font-size="8.42" text-anchor="end" fill="#141414" textLength="8.24" lengthAdjust="spacingAndGlyphs">50</text>
<line x1="272.40" y1="412.30" x2="275.60" y2="412.30" stroke="#111" stroke-width="0.9"/>
<text x="269.40" y="415.31" font-size="8.42" text-anchor="end" fill="#141414" textLength="8.24" lengthAdjust="spacingAndGlyphs">60</text>
<line x1="272.40" y1="402.70" x2="275.60" y2="402.70" stroke="#111" stroke-width="0.9"/>
<text x="269.40" y="405.71" font-size="8.42" text-anchor="end" fill="#141414" textLength="8.24" lengthAdjust="spacingAndGlyphs">70</text>
<line x1="272.40" y1="393.10" x2="275.60" y2="393.10" stroke="#111" stroke-width="0.9"/>
<text x="269.40" y="396.11" font-size="8.42" text-anchor="end" fill="#141414" textLength="8.24" lengthAdjust="spacingAndGlyphs">80</text>
<line x1="272.40" y1="383.50" x2="275.60" y2="383.50" stroke="#111" stroke-width="0.9"/>
<text x="269.40" y="386.51" font-size="8.42" text-anchor="end" fill="#141414" textLength="8.24" lengthAdjust="spacingAndGlyphs">90</text>
<line x1="272.40" y1="373.90" x2="275.60" y2="373.90" stroke="#111" stroke-width="0.9"/>
<text x="269.40" y="376.91" font-size="8.42" text-anchor="end" fill="#141414" textLength="12.36" lengthAdjust="spacingAndGlyphs">100</text>
<line x1="285.95" y1="399.24" x2="285.95" y2="386.67" stroke="#222" stroke-width="0.9"/>
<line x1="284.45" y1="386.67" x2="287.45" y2="386.67" stroke="#222" stroke-width="0.9"/>
<line x1="294.65" y1="455.02" x2="294.65" y2="444.36" stroke="#222" stroke-width="0.9"/>
<line x1="293.15" y1="444.36" x2="296.15" y2="444.36" stroke="#222" stroke-width="0.9"/>
<rect x="281.60" y="399.24" width="8.70" height="70.66" fill="#a2303f"/>
<rect x="290.30" y="455.02" width="8.70" height="14.88" fill="#4b6184"/>
<text x="290.35" y="482.91" font-size="8.42" text-anchor="middle" fill="#141414" textLength="12.30" lengthAdjust="spacingAndGlyphs">5B9</text>
<line x1="305.20" y1="469.90" x2="305.20" y2="472.90" stroke="#111" stroke-width="0.9"/>
<line x1="315.55" y1="411.72" x2="315.55" y2="393.10" stroke="#222" stroke-width="0.9"/>
<line x1="314.05" y1="393.10" x2="317.05" y2="393.10" stroke="#222" stroke-width="0.9"/>
<line x1="324.25" y1="457.61" x2="324.25" y2="452.33" stroke="#222" stroke-width="0.9"/>
<line x1="322.75" y1="452.33" x2="325.75" y2="452.33" stroke="#222" stroke-width="0.9"/>
<rect x="311.20" y="411.72" width="8.70" height="58.18" fill="#a2303f"/>
<rect x="319.90" y="457.61" width="8.70" height="12.29" fill="#4b6184"/>
<text x="319.60" y="482.91" font-size="8.42" text-anchor="middle" fill="#141414" textLength="14.20" lengthAdjust="spacingAndGlyphs">HIT1</text>
<line x1="334.80" y1="469.90" x2="334.80" y2="472.90" stroke="#111" stroke-width="0.9"/>
<line x1="345.15" y1="409.23" x2="345.15" y2="397.52" stroke="#222" stroke-width="0.9"/>
<line x1="343.65" y1="397.52" x2="346.65" y2="397.52" stroke="#222" stroke-width="0.9"/>
<line x1="353.85" y1="455.79" x2="353.85" y2="444.27" stroke="#222" stroke-width="0.9"/>
<line x1="352.35" y1="444.27" x2="355.35" y2="444.27" stroke="#222" stroke-width="0.9"/>
<rect x="340.80" y="409.23" width="8.70" height="60.67" fill="#a2303f"/>
<rect x="349.50" y="455.79" width="8.70" height="14.11" fill="#4b6184"/>
<text x="349.25" y="482.91" font-size="8.42" text-anchor="middle" fill="#141414" textLength="14.50" lengthAdjust="spacingAndGlyphs">HIT2</text>
<line x1="364.40" y1="469.90" x2="364.40" y2="472.90" stroke="#111" stroke-width="0.9"/>
<line x1="374.75" y1="378.70" x2="374.75" y2="378.12" stroke="#222" stroke-width="0.9"/>
<line x1="373.25" y1="378.12" x2="376.25" y2="378.12" stroke="#222" stroke-width="0.9"/>
<line x1="383.45" y1="467.02" x2="383.45" y2="465.10" stroke="#222" stroke-width="0.9"/>
<line x1="381.95" y1="465.10" x2="384.95" y2="465.10" stroke="#222" stroke-width="0.9"/>
<rect x="370.40" y="378.70" width="8.70" height="91.20" fill="#a2303f"/>
<rect x="379.10" y="467.02" width="8.70" height="2.88" fill="#4b6184"/>
<text x="378.40" y="482.91" font-size="8.42" text-anchor="middle" fill="#141414" textLength="14.80" lengthAdjust="spacingAndGlyphs">HIT3</text>
<line x1="394.00" y1="469.90" x2="394.00" y2="472.90" stroke="#111" stroke-width="0.9"/>
<line x1="404.35" y1="399.24" x2="404.35" y2="386.38" stroke="#222" stroke-width="0.9"/>
<line x1="402.85" y1="386.38" x2="405.85" y2="386.38" stroke="#222" stroke-width="0.9"/>
<line x1="413.05" y1="390.03" x2="413.05" y2="374.28" stroke="#222" stroke-width="0.9"/>
<line x1="411.55" y1="374.28" x2="414.55" y2="374.28" stroke="#222" stroke-width="0.9"/>
<rect x="400.00" y="399.24" width="8.70" height="70.66" fill="#a2303f"/>
<rect x="408.70" y="390.03" width="8.70" height="79.87" fill="#4b6184"/>
<text x="408.40" y="482.91" font-size="8.42" text-anchor="middle" fill="#141414" textLength="32.00" lengthAdjust="spacingAndGlyphs">Thrombin</text>
<line x1="423.10" y1="469.90" x2="423.10" y2="472.90" stroke="#111" stroke-width="0.9"/>
<rect x="284.20" y="364.20" width="4.30" height="3.90" fill="#a2303f"/>
<rect x="284.20" y="374.20" width="4.30" height="3.90" fill="#4b6184"/>
<text x="303.10" y="368.71" font-size="7.02" text-anchor="middle" fill="#141414" textLength="23.80" lengthAdjust="spacingAndGlyphs">W/o IdeS</text>
<text x="296.95" y="378.31" font-size="7.02" text-anchor="middle" fill="#141414" textLength="11.50" lengthAdjust="spacingAndGlyphs">IdeS</text>
<text x="247.60" y="423.78" font-size="9.72" text-anchor="middle" fill="#141414" textLength="85.10" lengthAdjust="spacingAndGlyphs" transform="rotate(-90 247.60 420.30)">Platelet activation (%)</text>
<rect x="0" y="0" width="520" height="1.6" fill="#4a4a4a"/>
<rect x="0" y="0" width="1.6" height="505" fill="#4a4a4a"/>
<rect x="518.4" y="0" width="1.6" height="505" fill="#000"/>
<rect x="0" y="503.4" width="520" height="1.6" fill="#000"/>
</g>
</svg>
</body></html>
